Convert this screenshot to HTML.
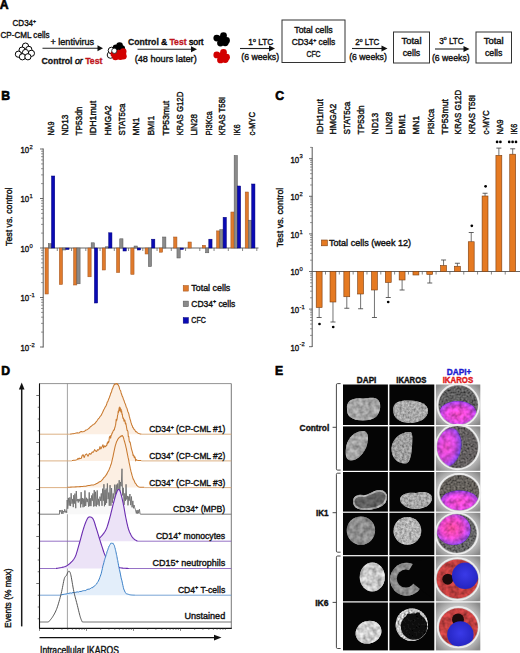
<!DOCTYPE html>
<html><head><meta charset="utf-8"><style>
html,body{margin:0;padding:0;background:#fff;overflow:hidden;}
svg{display:block;font-family:"Liberation Sans", sans-serif;}
</style></head><body>
<svg width="520" height="653" viewBox="0 0 520 653">
<rect width="520" height="653" fill="#fff"/>
<text x="-0.3" y="9.2" font-size="12.2" font-weight="bold" fill="#000" stroke="#000" stroke-width="0.6">A</text>
<text x="24.3" y="26" font-size="9.5" text-anchor="middle" textLength="23.5" lengthAdjust="spacingAndGlyphs" fill="#111" stroke="#111" stroke-width="0.4">CD34<tspan font-size="6" dy="-3.5">+</tspan></text>
<text x="25" y="37.8" font-size="9.5" text-anchor="middle" textLength="49" lengthAdjust="spacingAndGlyphs" fill="#111" stroke="#111" stroke-width="0.4">CP-CML cells</text>
<circle cx="25.5" cy="46.1" r="3.1" fill="#fff" stroke="#000" stroke-width="1"/>
<circle cx="22.1" cy="50.1" r="3.1" fill="#fff" stroke="#000" stroke-width="1"/>
<circle cx="28.8" cy="49.4" r="3.1" fill="#fff" stroke="#000" stroke-width="1"/>
<circle cx="25.5" cy="52.5" r="3.1" fill="#fff" stroke="#000" stroke-width="1"/>
<circle cx="18.4" cy="54.2" r="3.1" fill="#fff" stroke="#000" stroke-width="1"/>
<circle cx="31.4" cy="53.3" r="3.1" fill="#fff" stroke="#000" stroke-width="1"/>
<circle cx="22.4" cy="56.8" r="3.1" fill="#fff" stroke="#000" stroke-width="1"/>
<circle cx="27.9" cy="56.8" r="3.1" fill="#fff" stroke="#000" stroke-width="1"/>
<text x="72.3" y="45.3" font-size="9.5" text-anchor="middle" textLength="43.8" lengthAdjust="spacingAndGlyphs" fill="#111" stroke="#111" stroke-width="0.4">+ lentivirus</text>
<line x1="42.50" y1="48.30" x2="99.00" y2="48.30" stroke="#222" stroke-width="1.1"/>
<path d="M97.5,45.3 L103,48.3 L97.5,51.3 Z" fill="#111"/>
<text x="41.5" y="63.6" font-size="9.5" font-weight="bold" fill="#111" stroke="#111" stroke-width="0.3" textLength="61" lengthAdjust="spacingAndGlyphs">Control <tspan font-style="italic" font-weight="normal" stroke-width="0.5">or</tspan> <tspan fill="#c0141c" stroke="#c0141c">Test</tspan></text>
<circle cx="110.5" cy="55.0" r="3.3" fill="#fff" stroke="#111" stroke-width="1"/>
<circle cx="111.5" cy="50.5" r="3.3" fill="#fff" stroke="#111" stroke-width="1"/>
<circle cx="116.0" cy="47.8" r="3.3" fill="#000"/>
<circle cx="119.6" cy="45.6" r="3.3" fill="#000"/>
<circle cx="121.8" cy="48.6" r="3.3" fill="#000"/>
<circle cx="115.5" cy="57.0" r="3.3" fill="#d20000"/>
<circle cx="120.3" cy="56.8" r="3.3" fill="#d20000"/>
<circle cx="122.8" cy="53.2" r="3.3" fill="#d20000"/>
<circle cx="118.5" cy="53.0" r="3.3" fill="#d20000"/>
<circle cx="123.4" cy="56.2" r="3.3" fill="#d20000"/>
<circle cx="113.8" cy="54.0" r="3.3" fill="#d20000"/>
<circle cx="123.2" cy="51.6" r="3.3" fill="#d20000"/>
<circle cx="114.3" cy="50.8" r="2.6" fill="#fff" stroke="#111" stroke-width="0.8"/>
<text x="128" y="45" font-size="9.5" fill="#111" stroke="#111" stroke-width="0.55" textLength="75.5" lengthAdjust="spacingAndGlyphs"><tspan font-weight="bold" stroke-width="0.3">Control</tspan> &amp; <tspan font-weight="bold" fill="#c0141c" stroke="#c0141c" stroke-width="0.3">Test</tspan> sort</text>
<line x1="137.50" y1="49.30" x2="192.00" y2="49.30" stroke="#222" stroke-width="1.1"/>
<path d="M191,46.3 L197,49.3 L191,52.3 Z" fill="#111"/>
<text x="165.7" y="62.2" font-size="9.5" text-anchor="middle" textLength="62" lengthAdjust="spacingAndGlyphs" fill="#111" stroke="#111" stroke-width="0.4">(48 hours later)</text>
<circle cx="216.8" cy="38.1" r="3.4" fill="#000"/>
<circle cx="223.5" cy="35.7" r="3.4" fill="#000"/>
<circle cx="226.5" cy="40.4" r="3.4" fill="#000"/>
<circle cx="220.5" cy="43.1" r="3.4" fill="#000"/>
<circle cx="225.2" cy="42.8" r="3.4" fill="#000"/>
<circle cx="221.5" cy="39.0" r="3.4" fill="#000"/>
<circle cx="216.8" cy="54.9" r="3.4" fill="#d20000"/>
<circle cx="223.5" cy="52.5" r="3.4" fill="#d20000"/>
<circle cx="226.5" cy="57.2" r="3.4" fill="#d20000"/>
<circle cx="220.5" cy="59.9" r="3.4" fill="#d20000"/>
<circle cx="225.2" cy="59.6" r="3.4" fill="#d20000"/>
<circle cx="221.5" cy="55.8" r="3.4" fill="#d20000"/>
<text x="260.8" y="45" font-size="9.5" text-anchor="middle" textLength="25" lengthAdjust="spacingAndGlyphs" fill="#111" stroke="#111" stroke-width="0.4">1<tspan font-size="6" dy="-3.5">o</tspan><tspan dy="3.5"> LTC</tspan></text>
<line x1="240.00" y1="48.50" x2="270.00" y2="48.50" stroke="#222" stroke-width="1.1"/>
<path d="M269,45.5 L275,48.5 L269,51.5 Z" fill="#111"/>
<text x="260.2" y="60.3" font-size="9.5" text-anchor="middle" textLength="37.7" lengthAdjust="spacingAndGlyphs" fill="#111" stroke="#111" stroke-width="0.4">(6 weeks)</text>
<rect x="282.00" y="20.00" width="63.00" height="42.50" fill="#fff" stroke="#333" stroke-width="1"/>
<text x="313.5" y="32.6" font-size="9.6" text-anchor="middle" textLength="38.5" lengthAdjust="spacingAndGlyphs" fill="#111" stroke="#111" stroke-width="0.4">Total cells</text>
<text x="313.5" y="45.2" font-size="9.6" text-anchor="middle" textLength="43.5" lengthAdjust="spacingAndGlyphs" fill="#111" stroke="#111" stroke-width="0.4">CD34<tspan font-size="6" dy="-3.5">+</tspan><tspan dy="3.5"> cells</tspan></text>
<text x="313.5" y="57.0" font-size="9.8" text-anchor="middle" textLength="14.2" lengthAdjust="spacingAndGlyphs" fill="#111" stroke="#111" stroke-width="0.4">CFC</text>
<text x="367.3" y="45" font-size="9.5" text-anchor="middle" textLength="24" lengthAdjust="spacingAndGlyphs" fill="#111" stroke="#111" stroke-width="0.4">2<tspan font-size="6" dy="-3.5">o</tspan><tspan dy="3.5"> LTC</tspan></text>
<line x1="352.00" y1="48.50" x2="382.00" y2="48.50" stroke="#222" stroke-width="1.1"/>
<path d="M381.5,45.5 L387.5,48.5 L381.5,51.5 Z" fill="#111"/>
<text x="368" y="60.3" font-size="9.5" text-anchor="middle" textLength="37.7" lengthAdjust="spacingAndGlyphs" fill="#111" stroke="#111" stroke-width="0.4">(6 weeks)</text>
<rect x="393.50" y="32.00" width="36.00" height="31.00" fill="#fff" stroke="#333" stroke-width="1"/>
<text x="411.5" y="43.8" font-size="9.5" text-anchor="middle" textLength="20" lengthAdjust="spacingAndGlyphs" fill="#111" stroke="#111" stroke-width="0.4">Total</text>
<text x="411.5" y="56.2" font-size="9.5" text-anchor="middle" textLength="17.5" lengthAdjust="spacingAndGlyphs" fill="#111" stroke="#111" stroke-width="0.4">cells</text>
<text x="451.5" y="43.6" font-size="9.5" text-anchor="middle" textLength="24.5" lengthAdjust="spacingAndGlyphs" fill="#111" stroke="#111" stroke-width="0.4">3<tspan font-size="6" dy="-3.5">o</tspan><tspan dy="3.5"> LTC</tspan></text>
<line x1="435.00" y1="49.00" x2="464.00" y2="49.00" stroke="#222" stroke-width="1.1"/>
<path d="M463.5,46 L469.5,49 L463.5,52 Z" fill="#111"/>
<text x="450.8" y="61" font-size="9.5" text-anchor="middle" textLength="37.7" lengthAdjust="spacingAndGlyphs" fill="#111" stroke="#111" stroke-width="0.4">(6 weeks)</text>
<rect x="476.00" y="32.00" width="35.50" height="31.00" fill="#fff" stroke="#333" stroke-width="1"/>
<text x="493.7" y="43.8" font-size="9.5" text-anchor="middle" textLength="20" lengthAdjust="spacingAndGlyphs" fill="#111" stroke="#111" stroke-width="0.4">Total</text>
<text x="493.7" y="56.2" font-size="9.5" text-anchor="middle" textLength="17.5" lengthAdjust="spacingAndGlyphs" fill="#111" stroke="#111" stroke-width="0.4">cells</text>
<text x="1.2" y="99.5" font-size="12.2" font-weight="bold" fill="#000" stroke="#000" stroke-width="0.6">B</text>
<text x="54.1" y="135.6" font-size="9.8" textLength="14.0" lengthAdjust="spacingAndGlyphs" transform="rotate(-90 54.1 135.6)" fill="#111" stroke="#111" stroke-width="0.42">NA9</text>
<text x="68.2" y="135.6" font-size="9.8" textLength="21.0" lengthAdjust="spacingAndGlyphs" transform="rotate(-90 68.2 135.6)" fill="#111" stroke="#111" stroke-width="0.42">ND13</text>
<text x="82.1" y="135.6" font-size="9.8" textLength="29.0" lengthAdjust="spacingAndGlyphs" transform="rotate(-90 82.1 135.6)" fill="#111" stroke="#111" stroke-width="0.42">TP53dn</text>
<text x="96.4" y="135.6" font-size="9.8" textLength="34.8" lengthAdjust="spacingAndGlyphs" transform="rotate(-90 96.4 135.6)" fill="#111" stroke="#111" stroke-width="0.42">IDH1mut</text>
<text x="111.1" y="135.6" font-size="9.8" textLength="30.2" lengthAdjust="spacingAndGlyphs" transform="rotate(-90 111.1 135.6)" fill="#111" stroke="#111" stroke-width="0.42">HMGA2</text>
<text x="125.3" y="135.6" font-size="9.8" textLength="31.9" lengthAdjust="spacingAndGlyphs" transform="rotate(-90 125.3 135.6)" fill="#111" stroke="#111" stroke-width="0.42">STAT5ca</text>
<text x="139.1" y="135.6" font-size="9.8" textLength="18.1" lengthAdjust="spacingAndGlyphs" transform="rotate(-90 139.1 135.6)" fill="#111" stroke="#111" stroke-width="0.42">MN1</text>
<text x="153.7" y="135.6" font-size="9.8" textLength="19.8" lengthAdjust="spacingAndGlyphs" transform="rotate(-90 153.7 135.6)" fill="#111" stroke="#111" stroke-width="0.42">BMI1</text>
<text x="169.0" y="135.6" font-size="9.8" textLength="34.8" lengthAdjust="spacingAndGlyphs" transform="rotate(-90 169.0 135.6)" fill="#111" stroke="#111" stroke-width="0.42">TP53mut</text>
<text x="183.4" y="135.6" font-size="9.8" textLength="44.0" lengthAdjust="spacingAndGlyphs" transform="rotate(-90 183.4 135.6)" fill="#111" stroke="#111" stroke-width="0.42">KRAS G12D</text>
<text x="197.1" y="135.6" font-size="9.8" textLength="21.5" lengthAdjust="spacingAndGlyphs" transform="rotate(-90 197.1 135.6)" fill="#111" stroke="#111" stroke-width="0.42">LIN28</text>
<text x="211.6" y="135.6" font-size="9.8" textLength="24.4" lengthAdjust="spacingAndGlyphs" transform="rotate(-90 211.6 135.6)" fill="#111" stroke="#111" stroke-width="0.42">PI3Kca</text>
<text x="225.4" y="135.6" font-size="9.8" textLength="38.8" lengthAdjust="spacingAndGlyphs" transform="rotate(-90 225.4 135.6)" fill="#111" stroke="#111" stroke-width="0.42">KRAS T58I</text>
<text x="239.6" y="135.6" font-size="9.8" textLength="11.2" lengthAdjust="spacingAndGlyphs" transform="rotate(-90 239.6 135.6)" fill="#111" stroke="#111" stroke-width="0.42">IK6</text>
<text x="254.6" y="135.6" font-size="9.8" textLength="23.8" lengthAdjust="spacingAndGlyphs" transform="rotate(-90 254.6 135.6)" fill="#111" stroke="#111" stroke-width="0.42">c-MYC</text>
<text x="12.3" y="216.7" font-size="9.5" text-anchor="middle" textLength="58.5" lengthAdjust="spacingAndGlyphs" transform="rotate(-90 12.3 216.7)" fill="#111" stroke="#111" stroke-width="0.4">Test vs. control</text>
<line x1="43.20" y1="148.50" x2="43.20" y2="347.50" stroke="#444" stroke-width="0.9"/>
<line x1="40.00" y1="347.00" x2="43.20" y2="347.00" stroke="#444" stroke-width="0.8"/>
<text x="20.4" y="350.9" font-size="9.6" fill="#111" stroke="#111" stroke-width="0.4" textLength="8.7" lengthAdjust="spacingAndGlyphs">10</text>
<text x="29.6" y="346.7" font-size="5.8" fill="#111" stroke="#111" stroke-width="0.25">&#8209;2</text>
<line x1="41.00" y1="332.10" x2="43.20" y2="332.10" stroke="#555" stroke-width="0.6"/>
<line x1="41.00" y1="323.38" x2="43.20" y2="323.38" stroke="#555" stroke-width="0.6"/>
<line x1="41.00" y1="317.20" x2="43.20" y2="317.20" stroke="#555" stroke-width="0.6"/>
<line x1="41.00" y1="312.40" x2="43.20" y2="312.40" stroke="#555" stroke-width="0.6"/>
<line x1="41.00" y1="308.48" x2="43.20" y2="308.48" stroke="#555" stroke-width="0.6"/>
<line x1="41.00" y1="305.17" x2="43.20" y2="305.17" stroke="#555" stroke-width="0.6"/>
<line x1="41.00" y1="302.30" x2="43.20" y2="302.30" stroke="#555" stroke-width="0.6"/>
<line x1="41.00" y1="299.76" x2="43.20" y2="299.76" stroke="#555" stroke-width="0.6"/>
<line x1="40.00" y1="297.50" x2="43.20" y2="297.50" stroke="#444" stroke-width="0.8"/>
<text x="20.4" y="301.4" font-size="9.6" fill="#111" stroke="#111" stroke-width="0.4" textLength="8.7" lengthAdjust="spacingAndGlyphs">10</text>
<text x="29.6" y="297.2" font-size="5.8" fill="#111" stroke="#111" stroke-width="0.25">&#8209;1</text>
<line x1="41.00" y1="282.60" x2="43.20" y2="282.60" stroke="#555" stroke-width="0.6"/>
<line x1="41.00" y1="273.88" x2="43.20" y2="273.88" stroke="#555" stroke-width="0.6"/>
<line x1="41.00" y1="267.70" x2="43.20" y2="267.70" stroke="#555" stroke-width="0.6"/>
<line x1="41.00" y1="262.90" x2="43.20" y2="262.90" stroke="#555" stroke-width="0.6"/>
<line x1="41.00" y1="258.98" x2="43.20" y2="258.98" stroke="#555" stroke-width="0.6"/>
<line x1="41.00" y1="255.67" x2="43.20" y2="255.67" stroke="#555" stroke-width="0.6"/>
<line x1="41.00" y1="252.80" x2="43.20" y2="252.80" stroke="#555" stroke-width="0.6"/>
<line x1="41.00" y1="250.26" x2="43.20" y2="250.26" stroke="#555" stroke-width="0.6"/>
<line x1="40.00" y1="248.00" x2="43.20" y2="248.00" stroke="#444" stroke-width="0.8"/>
<text x="20.4" y="251.9" font-size="9.6" fill="#111" stroke="#111" stroke-width="0.4" textLength="8.7" lengthAdjust="spacingAndGlyphs">10</text>
<text x="29.6" y="247.7" font-size="5.8" fill="#111" stroke="#111" stroke-width="0.25">0</text>
<line x1="41.00" y1="233.10" x2="43.20" y2="233.10" stroke="#555" stroke-width="0.6"/>
<line x1="41.00" y1="224.38" x2="43.20" y2="224.38" stroke="#555" stroke-width="0.6"/>
<line x1="41.00" y1="218.20" x2="43.20" y2="218.20" stroke="#555" stroke-width="0.6"/>
<line x1="41.00" y1="213.40" x2="43.20" y2="213.40" stroke="#555" stroke-width="0.6"/>
<line x1="41.00" y1="209.48" x2="43.20" y2="209.48" stroke="#555" stroke-width="0.6"/>
<line x1="41.00" y1="206.17" x2="43.20" y2="206.17" stroke="#555" stroke-width="0.6"/>
<line x1="41.00" y1="203.30" x2="43.20" y2="203.30" stroke="#555" stroke-width="0.6"/>
<line x1="41.00" y1="200.76" x2="43.20" y2="200.76" stroke="#555" stroke-width="0.6"/>
<line x1="40.00" y1="198.50" x2="43.20" y2="198.50" stroke="#444" stroke-width="0.8"/>
<text x="20.4" y="202.4" font-size="9.6" fill="#111" stroke="#111" stroke-width="0.4" textLength="8.7" lengthAdjust="spacingAndGlyphs">10</text>
<text x="29.6" y="198.2" font-size="5.8" fill="#111" stroke="#111" stroke-width="0.25">1</text>
<line x1="41.00" y1="183.60" x2="43.20" y2="183.60" stroke="#555" stroke-width="0.6"/>
<line x1="41.00" y1="174.88" x2="43.20" y2="174.88" stroke="#555" stroke-width="0.6"/>
<line x1="41.00" y1="168.70" x2="43.20" y2="168.70" stroke="#555" stroke-width="0.6"/>
<line x1="41.00" y1="163.90" x2="43.20" y2="163.90" stroke="#555" stroke-width="0.6"/>
<line x1="41.00" y1="159.98" x2="43.20" y2="159.98" stroke="#555" stroke-width="0.6"/>
<line x1="41.00" y1="156.67" x2="43.20" y2="156.67" stroke="#555" stroke-width="0.6"/>
<line x1="41.00" y1="153.80" x2="43.20" y2="153.80" stroke="#555" stroke-width="0.6"/>
<line x1="41.00" y1="151.26" x2="43.20" y2="151.26" stroke="#555" stroke-width="0.6"/>
<line x1="40.00" y1="149.00" x2="43.20" y2="149.00" stroke="#444" stroke-width="0.8"/>
<text x="20.4" y="152.9" font-size="9.6" fill="#111" stroke="#111" stroke-width="0.4" textLength="8.7" lengthAdjust="spacingAndGlyphs">10</text>
<text x="29.6" y="148.7" font-size="5.8" fill="#111" stroke="#111" stroke-width="0.25">2</text>
<line x1="43.20" y1="248.00" x2="258.50" y2="248.00" stroke="#555" stroke-width="0.9"/>
<line x1="57.30" y1="248.00" x2="57.30" y2="251.00" stroke="#555" stroke-width="0.7"/>
<line x1="71.55" y1="248.00" x2="71.55" y2="251.00" stroke="#555" stroke-width="0.7"/>
<line x1="85.80" y1="248.00" x2="85.80" y2="251.00" stroke="#555" stroke-width="0.7"/>
<line x1="100.05" y1="248.00" x2="100.05" y2="251.00" stroke="#555" stroke-width="0.7"/>
<line x1="114.30" y1="248.00" x2="114.30" y2="251.00" stroke="#555" stroke-width="0.7"/>
<line x1="128.55" y1="248.00" x2="128.55" y2="251.00" stroke="#555" stroke-width="0.7"/>
<line x1="142.80" y1="248.00" x2="142.80" y2="251.00" stroke="#555" stroke-width="0.7"/>
<line x1="157.05" y1="248.00" x2="157.05" y2="251.00" stroke="#555" stroke-width="0.7"/>
<line x1="171.30" y1="248.00" x2="171.30" y2="251.00" stroke="#555" stroke-width="0.7"/>
<line x1="185.55" y1="248.00" x2="185.55" y2="251.00" stroke="#555" stroke-width="0.7"/>
<line x1="199.80" y1="248.00" x2="199.80" y2="251.00" stroke="#555" stroke-width="0.7"/>
<line x1="214.05" y1="248.00" x2="214.05" y2="251.00" stroke="#555" stroke-width="0.7"/>
<line x1="228.30" y1="248.00" x2="228.30" y2="251.00" stroke="#555" stroke-width="0.7"/>
<line x1="242.55" y1="248.00" x2="242.55" y2="251.00" stroke="#555" stroke-width="0.7"/>
<line x1="256.80" y1="248.00" x2="256.80" y2="251.00" stroke="#555" stroke-width="0.7"/>
<rect x="45.00" y="248.00" width="3.25" height="46.00" fill="#df7a2c" stroke="#a0521c" stroke-width="0.5"/>
<rect x="48.25" y="243.70" width="3.25" height="4.30" fill="#8a8a8a" stroke="#555" stroke-width="0.5"/>
<rect x="51.50" y="176.00" width="3.25" height="72.00" fill="#0a0ab4" stroke="#00007a" stroke-width="0.5"/>
<rect x="59.30" y="248.00" width="3.25" height="36.50" fill="#df7a2c" stroke="#a0521c" stroke-width="0.5"/>
<rect x="62.55" y="248.00" width="3.25" height="2.00" fill="#8a8a8a" stroke="#555" stroke-width="0.5"/>
<rect x="65.80" y="248.00" width="3.25" height="1.50" fill="#0a0ab4" stroke="#00007a" stroke-width="0.5"/>
<rect x="73.60" y="248.00" width="3.25" height="37.00" fill="#df7a2c" stroke="#a0521c" stroke-width="0.5"/>
<rect x="76.85" y="248.00" width="3.25" height="35.80" fill="#8a8a8a" stroke="#555" stroke-width="0.5"/>
<rect x="87.90" y="248.00" width="3.25" height="28.80" fill="#df7a2c" stroke="#a0521c" stroke-width="0.5"/>
<rect x="91.15" y="242.80" width="3.25" height="5.20" fill="#8a8a8a" stroke="#555" stroke-width="0.5"/>
<rect x="94.40" y="248.00" width="3.25" height="55.00" fill="#0a0ab4" stroke="#00007a" stroke-width="0.5"/>
<rect x="102.20" y="248.00" width="3.25" height="22.00" fill="#df7a2c" stroke="#a0521c" stroke-width="0.5"/>
<rect x="105.45" y="246.80" width="3.25" height="1.20" fill="#8a8a8a" stroke="#555" stroke-width="0.5"/>
<rect x="108.70" y="232.80" width="3.25" height="15.20" fill="#0a0ab4" stroke="#00007a" stroke-width="0.5"/>
<rect x="116.50" y="248.00" width="3.25" height="24.50" fill="#df7a2c" stroke="#a0521c" stroke-width="0.5"/>
<rect x="119.75" y="238.80" width="3.25" height="9.20" fill="#8a8a8a" stroke="#555" stroke-width="0.5"/>
<rect x="123.00" y="248.00" width="3.25" height="3.00" fill="#0a0ab4" stroke="#00007a" stroke-width="0.5"/>
<rect x="130.80" y="248.00" width="3.25" height="26.40" fill="#df7a2c" stroke="#a0521c" stroke-width="0.5"/>
<rect x="134.05" y="246.00" width="3.25" height="2.00" fill="#8a8a8a" stroke="#555" stroke-width="0.5"/>
<rect x="137.30" y="248.00" width="3.25" height="2.00" fill="#0a0ab4" stroke="#00007a" stroke-width="0.5"/>
<rect x="145.10" y="248.00" width="3.25" height="6.00" fill="#df7a2c" stroke="#a0521c" stroke-width="0.5"/>
<rect x="148.35" y="248.00" width="3.25" height="18.60" fill="#8a8a8a" stroke="#555" stroke-width="0.5"/>
<rect x="151.60" y="239.20" width="3.25" height="8.80" fill="#0a0ab4" stroke="#00007a" stroke-width="0.5"/>
<rect x="159.40" y="248.00" width="3.25" height="4.20" fill="#df7a2c" stroke="#a0521c" stroke-width="0.5"/>
<rect x="162.65" y="237.00" width="3.25" height="11.00" fill="#8a8a8a" stroke="#555" stroke-width="0.5"/>
<rect x="173.70" y="237.00" width="3.25" height="11.00" fill="#df7a2c" stroke="#a0521c" stroke-width="0.5"/>
<rect x="176.95" y="248.00" width="3.25" height="10.00" fill="#8a8a8a" stroke="#555" stroke-width="0.5"/>
<rect x="180.20" y="248.00" width="3.25" height="1.50" fill="#0a0ab4" stroke="#00007a" stroke-width="0.5"/>
<rect x="188.00" y="242.00" width="3.25" height="6.00" fill="#df7a2c" stroke="#a0521c" stroke-width="0.5"/>
<rect x="202.30" y="245.30" width="3.25" height="2.70" fill="#df7a2c" stroke="#a0521c" stroke-width="0.5"/>
<rect x="205.55" y="248.00" width="3.25" height="4.80" fill="#8a8a8a" stroke="#555" stroke-width="0.5"/>
<rect x="208.80" y="239.20" width="3.25" height="8.80" fill="#0a0ab4" stroke="#00007a" stroke-width="0.5"/>
<rect x="216.60" y="230.90" width="3.25" height="17.10" fill="#df7a2c" stroke="#a0521c" stroke-width="0.5"/>
<rect x="219.85" y="229.70" width="3.25" height="18.30" fill="#8a8a8a" stroke="#555" stroke-width="0.5"/>
<rect x="223.10" y="217.30" width="3.25" height="30.70" fill="#0a0ab4" stroke="#00007a" stroke-width="0.5"/>
<rect x="230.90" y="212.00" width="3.25" height="36.00" fill="#df7a2c" stroke="#a0521c" stroke-width="0.5"/>
<rect x="234.15" y="155.50" width="3.25" height="92.50" fill="#8a8a8a" stroke="#555" stroke-width="0.5"/>
<rect x="237.40" y="186.00" width="3.25" height="62.00" fill="#0a0ab4" stroke="#00007a" stroke-width="0.5"/>
<rect x="245.20" y="192.00" width="3.25" height="56.00" fill="#df7a2c" stroke="#a0521c" stroke-width="0.5"/>
<rect x="248.45" y="220.20" width="3.25" height="27.80" fill="#8a8a8a" stroke="#555" stroke-width="0.5"/>
<rect x="251.70" y="184.00" width="3.25" height="64.00" fill="#0a0ab4" stroke="#00007a" stroke-width="0.5"/>
<rect x="183.20" y="285.50" width="5.20" height="5.60" fill="#df7a2c" stroke="#a0521c" stroke-width="0.5"/>
<text x="191.3" y="291.09999999999997" font-size="9.5" textLength="39.0" lengthAdjust="spacingAndGlyphs" fill="#111" stroke="#111" stroke-width="0.4">Total cells</text>
<rect x="183.20" y="301.10" width="5.20" height="5.60" fill="#8a8a8a" stroke="#555" stroke-width="0.5"/>
<text x="191.3" y="306.7" font-size="9.5" textLength="44.0" lengthAdjust="spacingAndGlyphs" fill="#111" stroke="#111" stroke-width="0.4">CD34<tspan font-size="6" dy="-3.5">+</tspan><tspan dy="3.5"> cells</tspan></text>
<rect x="183.20" y="317.60" width="5.20" height="5.60" fill="#0a0ab4" stroke="#00007a" stroke-width="0.5"/>
<text x="191.3" y="323.2" font-size="9.5" textLength="14.6" lengthAdjust="spacingAndGlyphs" fill="#111" stroke="#111" stroke-width="0.4">CFC</text>
<text x="275.3" y="99.5" font-size="12.2" font-weight="bold" fill="#000" stroke="#000" stroke-width="0.6">C</text>
<text x="322.9" y="134.4" font-size="9.8" textLength="35.3" lengthAdjust="spacingAndGlyphs" transform="rotate(-90 322.9 134.4)" fill="#111" stroke="#111" stroke-width="0.42">IDH1mut</text>
<text x="336.3" y="134.4" font-size="9.8" textLength="30.7" lengthAdjust="spacingAndGlyphs" transform="rotate(-90 336.3 134.4)" fill="#111" stroke="#111" stroke-width="0.42">HMGA2</text>
<text x="349.8" y="134.4" font-size="9.8" textLength="32.7" lengthAdjust="spacingAndGlyphs" transform="rotate(-90 349.8 134.4)" fill="#111" stroke="#111" stroke-width="0.42">STAT5ca</text>
<text x="363.6" y="134.4" font-size="9.8" textLength="29.0" lengthAdjust="spacingAndGlyphs" transform="rotate(-90 363.6 134.4)" fill="#111" stroke="#111" stroke-width="0.42">TP53dn</text>
<text x="378.1" y="134.4" font-size="9.8" textLength="21.5" lengthAdjust="spacingAndGlyphs" transform="rotate(-90 378.1 134.4)" fill="#111" stroke="#111" stroke-width="0.42">ND13</text>
<text x="391.6" y="134.4" font-size="9.8" textLength="22.6" lengthAdjust="spacingAndGlyphs" transform="rotate(-90 391.6 134.4)" fill="#111" stroke="#111" stroke-width="0.42">LIN28</text>
<text x="405.4" y="134.4" font-size="9.8" textLength="20.3" lengthAdjust="spacingAndGlyphs" transform="rotate(-90 405.4 134.4)" fill="#111" stroke="#111" stroke-width="0.42">BMI1</text>
<text x="419.3" y="134.4" font-size="9.8" textLength="18.6" lengthAdjust="spacingAndGlyphs" transform="rotate(-90 419.3 134.4)" fill="#111" stroke="#111" stroke-width="0.42">MN1</text>
<text x="433.8" y="134.4" font-size="9.8" textLength="25.6" lengthAdjust="spacingAndGlyphs" transform="rotate(-90 433.8 134.4)" fill="#111" stroke="#111" stroke-width="0.42">PI3Kca</text>
<text x="447.6" y="134.4" font-size="9.8" textLength="35.3" lengthAdjust="spacingAndGlyphs" transform="rotate(-90 447.6 134.4)" fill="#111" stroke="#111" stroke-width="0.42">TP53mut</text>
<text x="461.4" y="134.4" font-size="9.8" textLength="44.6" lengthAdjust="spacingAndGlyphs" transform="rotate(-90 461.4 134.4)" fill="#111" stroke="#111" stroke-width="0.42">KRAS G12D</text>
<text x="475.3" y="134.4" font-size="9.8" textLength="39.4" lengthAdjust="spacingAndGlyphs" transform="rotate(-90 475.3 134.4)" fill="#111" stroke="#111" stroke-width="0.42">KRAS T58I</text>
<text x="489.4" y="134.4" font-size="9.8" textLength="24.2" lengthAdjust="spacingAndGlyphs" transform="rotate(-90 489.4 134.4)" fill="#111" stroke="#111" stroke-width="0.42">c-MYC</text>
<text x="502.9" y="134.4" font-size="9.8" textLength="15.0" lengthAdjust="spacingAndGlyphs" transform="rotate(-90 502.9 134.4)" fill="#111" stroke="#111" stroke-width="0.42">NA9</text>
<text x="516.6" y="134.4" font-size="9.8" textLength="10.7" lengthAdjust="spacingAndGlyphs" transform="rotate(-90 516.6 134.4)" fill="#111" stroke="#111" stroke-width="0.42">IK6</text>
<text x="282.6" y="217.4" font-size="9.5" text-anchor="middle" textLength="59.5" lengthAdjust="spacingAndGlyphs" transform="rotate(-90 282.6 217.4)" fill="#111" stroke="#111" stroke-width="0.4">Test vs. control</text>
<line x1="312.20" y1="147.00" x2="312.20" y2="347.00" stroke="#444" stroke-width="0.9"/>
<line x1="309.00" y1="346.70" x2="312.20" y2="346.70" stroke="#444" stroke-width="0.8"/>
<text x="290.4" y="350.6" font-size="9.6" fill="#111" stroke="#111" stroke-width="0.4" textLength="8.7" lengthAdjust="spacingAndGlyphs">10</text>
<text x="299.6" y="346.4" font-size="5.8" fill="#111" stroke="#111" stroke-width="0.25">&#8209;2</text>
<line x1="310.00" y1="335.38" x2="312.20" y2="335.38" stroke="#555" stroke-width="0.6"/>
<line x1="310.00" y1="328.76" x2="312.20" y2="328.76" stroke="#555" stroke-width="0.6"/>
<line x1="310.00" y1="324.06" x2="312.20" y2="324.06" stroke="#555" stroke-width="0.6"/>
<line x1="310.00" y1="320.42" x2="312.20" y2="320.42" stroke="#555" stroke-width="0.6"/>
<line x1="310.00" y1="317.44" x2="312.20" y2="317.44" stroke="#555" stroke-width="0.6"/>
<line x1="310.00" y1="314.92" x2="312.20" y2="314.92" stroke="#555" stroke-width="0.6"/>
<line x1="310.00" y1="312.74" x2="312.20" y2="312.74" stroke="#555" stroke-width="0.6"/>
<line x1="310.00" y1="310.82" x2="312.20" y2="310.82" stroke="#555" stroke-width="0.6"/>
<line x1="309.00" y1="309.10" x2="312.20" y2="309.10" stroke="#444" stroke-width="0.8"/>
<text x="290.4" y="313.0" font-size="9.6" fill="#111" stroke="#111" stroke-width="0.4" textLength="8.7" lengthAdjust="spacingAndGlyphs">10</text>
<text x="299.6" y="308.8" font-size="5.8" fill="#111" stroke="#111" stroke-width="0.25">&#8209;1</text>
<line x1="310.00" y1="297.78" x2="312.20" y2="297.78" stroke="#555" stroke-width="0.6"/>
<line x1="310.00" y1="291.16" x2="312.20" y2="291.16" stroke="#555" stroke-width="0.6"/>
<line x1="310.00" y1="286.46" x2="312.20" y2="286.46" stroke="#555" stroke-width="0.6"/>
<line x1="310.00" y1="282.82" x2="312.20" y2="282.82" stroke="#555" stroke-width="0.6"/>
<line x1="310.00" y1="279.84" x2="312.20" y2="279.84" stroke="#555" stroke-width="0.6"/>
<line x1="310.00" y1="277.32" x2="312.20" y2="277.32" stroke="#555" stroke-width="0.6"/>
<line x1="310.00" y1="275.14" x2="312.20" y2="275.14" stroke="#555" stroke-width="0.6"/>
<line x1="310.00" y1="273.22" x2="312.20" y2="273.22" stroke="#555" stroke-width="0.6"/>
<line x1="309.00" y1="271.50" x2="312.20" y2="271.50" stroke="#444" stroke-width="0.8"/>
<text x="290.4" y="275.4" font-size="9.6" fill="#111" stroke="#111" stroke-width="0.4" textLength="8.7" lengthAdjust="spacingAndGlyphs">10</text>
<text x="299.6" y="271.2" font-size="5.8" fill="#111" stroke="#111" stroke-width="0.25">0</text>
<line x1="310.00" y1="260.18" x2="312.20" y2="260.18" stroke="#555" stroke-width="0.6"/>
<line x1="310.00" y1="253.56" x2="312.20" y2="253.56" stroke="#555" stroke-width="0.6"/>
<line x1="310.00" y1="248.86" x2="312.20" y2="248.86" stroke="#555" stroke-width="0.6"/>
<line x1="310.00" y1="245.22" x2="312.20" y2="245.22" stroke="#555" stroke-width="0.6"/>
<line x1="310.00" y1="242.24" x2="312.20" y2="242.24" stroke="#555" stroke-width="0.6"/>
<line x1="310.00" y1="239.72" x2="312.20" y2="239.72" stroke="#555" stroke-width="0.6"/>
<line x1="310.00" y1="237.54" x2="312.20" y2="237.54" stroke="#555" stroke-width="0.6"/>
<line x1="310.00" y1="235.62" x2="312.20" y2="235.62" stroke="#555" stroke-width="0.6"/>
<line x1="309.00" y1="233.90" x2="312.20" y2="233.90" stroke="#444" stroke-width="0.8"/>
<text x="290.4" y="237.8" font-size="9.6" fill="#111" stroke="#111" stroke-width="0.4" textLength="8.7" lengthAdjust="spacingAndGlyphs">10</text>
<text x="299.6" y="233.6" font-size="5.8" fill="#111" stroke="#111" stroke-width="0.25">1</text>
<line x1="310.00" y1="222.58" x2="312.20" y2="222.58" stroke="#555" stroke-width="0.6"/>
<line x1="310.00" y1="215.96" x2="312.20" y2="215.96" stroke="#555" stroke-width="0.6"/>
<line x1="310.00" y1="211.26" x2="312.20" y2="211.26" stroke="#555" stroke-width="0.6"/>
<line x1="310.00" y1="207.62" x2="312.20" y2="207.62" stroke="#555" stroke-width="0.6"/>
<line x1="310.00" y1="204.64" x2="312.20" y2="204.64" stroke="#555" stroke-width="0.6"/>
<line x1="310.00" y1="202.12" x2="312.20" y2="202.12" stroke="#555" stroke-width="0.6"/>
<line x1="310.00" y1="199.94" x2="312.20" y2="199.94" stroke="#555" stroke-width="0.6"/>
<line x1="310.00" y1="198.02" x2="312.20" y2="198.02" stroke="#555" stroke-width="0.6"/>
<line x1="309.00" y1="196.30" x2="312.20" y2="196.30" stroke="#444" stroke-width="0.8"/>
<text x="290.4" y="200.2" font-size="9.6" fill="#111" stroke="#111" stroke-width="0.4" textLength="8.7" lengthAdjust="spacingAndGlyphs">10</text>
<text x="299.6" y="196.0" font-size="5.8" fill="#111" stroke="#111" stroke-width="0.25">2</text>
<line x1="310.00" y1="184.98" x2="312.20" y2="184.98" stroke="#555" stroke-width="0.6"/>
<line x1="310.00" y1="178.36" x2="312.20" y2="178.36" stroke="#555" stroke-width="0.6"/>
<line x1="310.00" y1="173.66" x2="312.20" y2="173.66" stroke="#555" stroke-width="0.6"/>
<line x1="310.00" y1="170.02" x2="312.20" y2="170.02" stroke="#555" stroke-width="0.6"/>
<line x1="310.00" y1="167.04" x2="312.20" y2="167.04" stroke="#555" stroke-width="0.6"/>
<line x1="310.00" y1="164.52" x2="312.20" y2="164.52" stroke="#555" stroke-width="0.6"/>
<line x1="310.00" y1="162.34" x2="312.20" y2="162.34" stroke="#555" stroke-width="0.6"/>
<line x1="310.00" y1="160.42" x2="312.20" y2="160.42" stroke="#555" stroke-width="0.6"/>
<line x1="309.00" y1="158.70" x2="312.20" y2="158.70" stroke="#444" stroke-width="0.8"/>
<text x="290.4" y="162.6" font-size="9.6" fill="#111" stroke="#111" stroke-width="0.4" textLength="8.7" lengthAdjust="spacingAndGlyphs">10</text>
<text x="299.6" y="158.4" font-size="5.8" fill="#111" stroke="#111" stroke-width="0.25">3</text>
<line x1="310.00" y1="147.38" x2="312.20" y2="147.38" stroke="#555" stroke-width="0.6"/>
<line x1="312.20" y1="271.50" x2="520.00" y2="271.50" stroke="#555" stroke-width="0.9"/>
<line x1="325.50" y1="271.50" x2="325.50" y2="274.50" stroke="#555" stroke-width="0.7"/>
<line x1="339.32" y1="271.50" x2="339.32" y2="274.50" stroke="#555" stroke-width="0.7"/>
<line x1="353.15" y1="271.50" x2="353.15" y2="274.50" stroke="#555" stroke-width="0.7"/>
<line x1="366.98" y1="271.50" x2="366.98" y2="274.50" stroke="#555" stroke-width="0.7"/>
<line x1="380.80" y1="271.50" x2="380.80" y2="274.50" stroke="#555" stroke-width="0.7"/>
<line x1="394.62" y1="271.50" x2="394.62" y2="274.50" stroke="#555" stroke-width="0.7"/>
<line x1="408.45" y1="271.50" x2="408.45" y2="274.50" stroke="#555" stroke-width="0.7"/>
<line x1="422.27" y1="271.50" x2="422.27" y2="274.50" stroke="#555" stroke-width="0.7"/>
<line x1="436.10" y1="271.50" x2="436.10" y2="274.50" stroke="#555" stroke-width="0.7"/>
<line x1="449.93" y1="271.50" x2="449.93" y2="274.50" stroke="#555" stroke-width="0.7"/>
<line x1="463.75" y1="271.50" x2="463.75" y2="274.50" stroke="#555" stroke-width="0.7"/>
<line x1="477.57" y1="271.50" x2="477.57" y2="274.50" stroke="#555" stroke-width="0.7"/>
<line x1="491.40" y1="271.50" x2="491.40" y2="274.50" stroke="#555" stroke-width="0.7"/>
<line x1="505.23" y1="271.50" x2="505.23" y2="274.50" stroke="#555" stroke-width="0.7"/>
<rect x="316.20" y="271.50" width="5.90" height="36.00" fill="#e57a22" stroke="#7a3c10" stroke-width="0.6"/>
<line x1="319.15" y1="307.50" x2="319.15" y2="317.50" stroke="#444" stroke-width="0.75"/>
<line x1="316.65" y1="317.50" x2="321.65" y2="317.50" stroke="#444" stroke-width="0.85"/>
<circle cx="319.5" cy="324" r="1.35" fill="#000"/>
<rect x="330.02" y="271.50" width="5.90" height="30.50" fill="#e57a22" stroke="#7a3c10" stroke-width="0.6"/>
<line x1="332.97" y1="302.00" x2="332.97" y2="322.00" stroke="#444" stroke-width="0.75"/>
<line x1="330.47" y1="322.00" x2="335.47" y2="322.00" stroke="#444" stroke-width="0.85"/>
<circle cx="333.2" cy="327" r="1.35" fill="#000"/>
<rect x="343.85" y="271.50" width="5.90" height="25.25" fill="#e57a22" stroke="#7a3c10" stroke-width="0.6"/>
<line x1="346.80" y1="296.75" x2="346.80" y2="308.25" stroke="#444" stroke-width="0.75"/>
<line x1="344.30" y1="308.25" x2="349.30" y2="308.25" stroke="#444" stroke-width="0.85"/>
<rect x="357.67" y="271.50" width="5.90" height="22.50" fill="#e57a22" stroke="#7a3c10" stroke-width="0.6"/>
<line x1="360.62" y1="294.00" x2="360.62" y2="308.75" stroke="#444" stroke-width="0.75"/>
<line x1="358.12" y1="308.75" x2="363.12" y2="308.75" stroke="#444" stroke-width="0.85"/>
<rect x="371.50" y="271.50" width="5.90" height="18.50" fill="#e57a22" stroke="#7a3c10" stroke-width="0.6"/>
<line x1="374.45" y1="290.00" x2="374.45" y2="317.50" stroke="#444" stroke-width="0.75"/>
<line x1="371.95" y1="317.50" x2="376.95" y2="317.50" stroke="#444" stroke-width="0.85"/>
<rect x="385.32" y="271.50" width="5.90" height="11.00" fill="#e57a22" stroke="#7a3c10" stroke-width="0.6"/>
<line x1="388.27" y1="282.50" x2="388.27" y2="297.50" stroke="#444" stroke-width="0.75"/>
<line x1="385.77" y1="297.50" x2="390.77" y2="297.50" stroke="#444" stroke-width="0.85"/>
<circle cx="388.2" cy="302" r="1.35" fill="#000"/>
<rect x="399.15" y="271.50" width="5.90" height="8.50" fill="#e57a22" stroke="#7a3c10" stroke-width="0.6"/>
<line x1="402.10" y1="280.00" x2="402.10" y2="290.00" stroke="#444" stroke-width="0.75"/>
<line x1="399.60" y1="290.00" x2="404.60" y2="290.00" stroke="#444" stroke-width="0.85"/>
<rect x="412.97" y="271.50" width="5.90" height="3.50" fill="#e57a22" stroke="#7a3c10" stroke-width="0.6"/>
<rect x="426.80" y="271.50" width="5.90" height="3.00" fill="#e57a22" stroke="#7a3c10" stroke-width="0.6"/>
<line x1="429.75" y1="274.50" x2="429.75" y2="283.00" stroke="#444" stroke-width="0.75"/>
<line x1="427.25" y1="283.00" x2="432.25" y2="283.00" stroke="#444" stroke-width="0.85"/>
<rect x="440.62" y="265.50" width="5.90" height="6.00" fill="#e57a22" stroke="#7a3c10" stroke-width="0.6"/>
<line x1="443.57" y1="265.50" x2="443.57" y2="260.00" stroke="#444" stroke-width="0.75"/>
<line x1="441.07" y1="260.00" x2="446.07" y2="260.00" stroke="#444" stroke-width="0.85"/>
<rect x="454.45" y="266.25" width="5.90" height="5.25" fill="#e57a22" stroke="#7a3c10" stroke-width="0.6"/>
<line x1="457.40" y1="266.25" x2="457.40" y2="263.25" stroke="#444" stroke-width="0.75"/>
<line x1="454.90" y1="263.25" x2="459.90" y2="263.25" stroke="#444" stroke-width="0.85"/>
<rect x="468.27" y="241.75" width="5.90" height="29.75" fill="#e57a22" stroke="#7a3c10" stroke-width="0.6"/>
<line x1="471.22" y1="241.75" x2="471.22" y2="232.50" stroke="#444" stroke-width="0.75"/>
<line x1="468.72" y1="232.50" x2="473.72" y2="232.50" stroke="#444" stroke-width="0.85"/>
<circle cx="471.8" cy="225.8" r="1.35" fill="#000"/>
<rect x="482.10" y="196.00" width="5.90" height="75.50" fill="#e57a22" stroke="#7a3c10" stroke-width="0.6"/>
<line x1="485.05" y1="196.00" x2="485.05" y2="193.25" stroke="#444" stroke-width="0.75"/>
<line x1="482.55" y1="193.25" x2="487.55" y2="193.25" stroke="#444" stroke-width="0.85"/>
<circle cx="485.6" cy="186.3" r="1.35" fill="#000"/>
<rect x="495.92" y="155.40" width="5.90" height="116.10" fill="#e57a22" stroke="#7a3c10" stroke-width="0.6"/>
<line x1="498.87" y1="155.40" x2="498.87" y2="148.10" stroke="#444" stroke-width="0.75"/>
<line x1="496.37" y1="148.10" x2="501.37" y2="148.10" stroke="#444" stroke-width="0.85"/>
<circle cx="497.1" cy="141.9" r="1.35" fill="#000"/>
<circle cx="500.4" cy="141.9" r="1.35" fill="#000"/>
<rect x="509.75" y="154.20" width="5.90" height="117.30" fill="#e57a22" stroke="#7a3c10" stroke-width="0.6"/>
<line x1="512.70" y1="154.20" x2="512.70" y2="148.80" stroke="#444" stroke-width="0.75"/>
<line x1="510.20" y1="148.80" x2="515.20" y2="148.80" stroke="#444" stroke-width="0.85"/>
<circle cx="509.2" cy="141.9" r="1.35" fill="#000"/>
<circle cx="512.6" cy="141.9" r="1.35" fill="#000"/>
<circle cx="516.0" cy="141.9" r="1.35" fill="#000"/>
<rect x="321.50" y="240.00" width="5.80" height="5.80" fill="#e57a22" stroke="#7a3c10" stroke-width="0.6"/>
<text x="329" y="246.1" font-size="9.5" fill="#111" stroke="#111" stroke-width="0.4" textLength="82" lengthAdjust="spacingAndGlyphs">Total cells (week 12)</text>
<text x="1.2" y="374.8" font-size="12.2" font-weight="bold" fill="#000" stroke="#000" stroke-width="0.6">D</text>
<line x1="21.70" y1="388.00" x2="21.70" y2="626.40" stroke="#1a1a1a" stroke-width="1.5"/>
<path d="M18.9,389.5 L21.7,382.5 L24.5,389.5 Z" fill="#111"/>
<text x="11.2" y="598.2" font-size="9.8" text-anchor="middle" textLength="59.5" lengthAdjust="spacingAndGlyphs" transform="rotate(-90 11.2 598.2)" fill="#111" stroke="#111" stroke-width="0.4">Events (% max)</text>
<line x1="39.50" y1="383.60" x2="231.30" y2="383.60" stroke="#777" stroke-width="0.8"/>
<line x1="231.30" y1="383.60" x2="231.30" y2="628.00" stroke="#555" stroke-width="0.8"/>
<line x1="67.40" y1="383.60" x2="67.40" y2="628.00" stroke="#8a8a8a" stroke-width="0.8"/>
<path d="M70.00,434.20 L70.55,434.10 L71.28,433.98 L72.14,433.83 L73.11,433.66 L74.14,433.47 L75.21,433.27 L76.27,433.04 L77.30,432.80 L78.32,433.02 L79.38,432.78 L80.46,431.66 L81.57,431.43 L82.68,431.88 L83.80,431.42 L84.91,430.91 L86.00,430.01 L87.10,429.64 L88.24,428.87 L89.38,427.97 L90.52,426.63 L91.63,425.95 L92.69,424.96 L93.69,424.38 L94.60,423.79 L95.41,422.97 L96.14,421.84 L96.80,421.05 L97.41,420.18 L98.00,419.24 L98.58,418.47 L99.17,418.08 L99.80,417.02 L100.46,416.06 L101.12,415.48 L101.79,413.95 L102.46,412.78 L103.12,411.21 L103.76,409.74 L104.39,408.78 L105.00,407.34 L105.59,406.45 L106.16,405.64 L106.71,404.00 L107.26,402.18 L107.79,401.57 L108.30,400.15 L108.81,398.80 L109.30,397.71 L109.79,396.29 L110.27,395.01 L110.75,393.26 L111.21,392.60 L111.65,391.35 L112.07,389.39 L112.45,388.95 L112.80,388.02 L113.10,387.02 L113.35,386.46 L113.56,385.91 L113.76,385.91 L113.93,385.13 L114.11,385.15 L114.30,384.41 L114.50,384.68 L114.72,384.49 L114.95,383.90 L115.17,383.91 L115.40,384.21 L115.63,383.99 L115.85,383.76 L116.08,383.51 L116.30,383.62 L116.52,384.01 L116.73,383.47 L116.94,384.23 L117.16,383.62 L117.37,384.34 L117.58,383.86 L117.79,384.69 L118.00,384.71 L118.19,384.81 L118.36,385.14 L118.52,385.62 L118.69,385.98 L118.87,386.20 L119.09,386.72 L119.36,387.78 L119.70,389.13 L120.11,389.96 L120.59,390.74 L121.12,392.98 L121.68,394.48 L122.27,396.32 L122.86,397.28 L123.44,399.48 L124.00,400.36 L124.55,402.47 L125.12,403.60 L125.69,405.06 L126.26,407.23 L126.82,407.97 L127.37,409.90 L127.90,411.74 L128.40,412.64 L128.87,414.16 L129.30,416.43 L129.70,417.59 L130.10,419.49 L130.50,420.38 L130.90,422.20 L131.33,423.41 L131.80,425.17 L132.30,425.73 L132.81,427.65 L133.35,427.70 L133.89,429.29 L134.45,429.40 L135.03,430.38 L135.61,431.61 L136.20,431.56 L136.84,432.11 L137.55,432.85 L138.29,433.20 L139.02,433.48 L139.73,433.71 L140.37,433.89 L140.90,434.05 L141.30,434.20 L141.30,434.2 L70.00,434.2 Z" fill="#fcefe3" stroke="none"/>
<path d="M39.5,434.2 L70.00,434.2 M141.30,434.2 L231.3,434.2" fill="none" stroke="#d9a877" stroke-width="0.9"/>
<path d="M70.00,434.20 L70.55,434.10 L71.28,433.98 L72.14,433.83 L73.11,433.66 L74.14,433.47 L75.21,433.27 L76.27,433.04 L77.30,432.80 L78.32,433.02 L79.38,432.78 L80.46,431.66 L81.57,431.43 L82.68,431.88 L83.80,431.42 L84.91,430.91 L86.00,430.01 L87.10,429.64 L88.24,428.87 L89.38,427.97 L90.52,426.63 L91.63,425.95 L92.69,424.96 L93.69,424.38 L94.60,423.79 L95.41,422.97 L96.14,421.84 L96.80,421.05 L97.41,420.18 L98.00,419.24 L98.58,418.47 L99.17,418.08 L99.80,417.02 L100.46,416.06 L101.12,415.48 L101.79,413.95 L102.46,412.78 L103.12,411.21 L103.76,409.74 L104.39,408.78 L105.00,407.34 L105.59,406.45 L106.16,405.64 L106.71,404.00 L107.26,402.18 L107.79,401.57 L108.30,400.15 L108.81,398.80 L109.30,397.71 L109.79,396.29 L110.27,395.01 L110.75,393.26 L111.21,392.60 L111.65,391.35 L112.07,389.39 L112.45,388.95 L112.80,388.02 L113.10,387.02 L113.35,386.46 L113.56,385.91 L113.76,385.91 L113.93,385.13 L114.11,385.15 L114.30,384.41 L114.50,384.68 L114.72,384.49 L114.95,383.90 L115.17,383.91 L115.40,384.21 L115.63,383.99 L115.85,383.76 L116.08,383.51 L116.30,383.62 L116.52,384.01 L116.73,383.47 L116.94,384.23 L117.16,383.62 L117.37,384.34 L117.58,383.86 L117.79,384.69 L118.00,384.71 L118.19,384.81 L118.36,385.14 L118.52,385.62 L118.69,385.98 L118.87,386.20 L119.09,386.72 L119.36,387.78 L119.70,389.13 L120.11,389.96 L120.59,390.74 L121.12,392.98 L121.68,394.48 L122.27,396.32 L122.86,397.28 L123.44,399.48 L124.00,400.36 L124.55,402.47 L125.12,403.60 L125.69,405.06 L126.26,407.23 L126.82,407.97 L127.37,409.90 L127.90,411.74 L128.40,412.64 L128.87,414.16 L129.30,416.43 L129.70,417.59 L130.10,419.49 L130.50,420.38 L130.90,422.20 L131.33,423.41 L131.80,425.17 L132.30,425.73 L132.81,427.65 L133.35,427.70 L133.89,429.29 L134.45,429.40 L135.03,430.38 L135.61,431.61 L136.20,431.56 L136.84,432.11 L137.55,432.85 L138.29,433.20 L139.02,433.48 L139.73,433.71 L140.37,433.89 L140.90,434.05 L141.30,434.20" fill="none" stroke="#c97a30" stroke-width="1.05" stroke-linejoin="round"/>
<path d="M72.00,460.50 L72.40,460.45 L72.91,460.40 L73.53,460.34 L74.22,460.26 L74.96,460.16 L75.74,460.02 L76.52,459.84 L77.30,459.60 L78.06,458.26 L78.83,459.14 L79.62,458.07 L80.43,458.58 L81.29,458.22 L82.19,455.50 L83.16,454.78 L84.20,457.55 L85.36,454.66 L86.64,453.92 L88.00,456.29 L89.40,453.49 L90.80,454.25 L92.16,452.13 L93.44,452.14 L94.60,449.60 L95.64,451.02 L96.61,451.48 L97.52,449.66 L98.37,450.11 L99.19,449.42 L99.98,446.59 L100.74,448.96 L101.50,447.86 L102.24,446.29 L102.96,444.83 L103.65,447.80 L104.31,445.85 L104.95,446.44 L105.56,446.63 L106.14,445.46 L106.70,445.68 L107.22,442.88 L107.69,443.72 L108.14,441.44 L108.56,442.50 L108.96,441.35 L109.36,437.29 L109.77,436.53 L110.20,435.97 L110.64,438.12 L111.10,435.18 L111.56,435.13 L112.01,433.02 L112.46,433.01 L112.90,431.65 L113.31,430.59 L113.70,430.54 L114.06,429.48 L114.39,429.65 L114.71,427.60 L115.01,427.38 L115.30,425.87 L115.59,425.16 L115.89,422.63 L116.20,419.35 L116.53,420.82 L116.87,419.81 L117.22,418.08 L117.57,415.26 L117.91,414.42 L118.23,411.12 L118.53,412.49 L118.80,410.59 L119.03,408.80 L119.22,407.45 L119.38,410.30 L119.53,410.67 L119.68,407.01 L119.83,409.92 L120.00,408.51 L120.20,407.70 L120.42,408.61 L120.64,410.96 L120.87,411.95 L121.12,409.30 L121.38,412.34 L121.66,410.90 L121.97,414.51 L122.30,413.92 L122.67,417.17 L123.08,418.70 L123.51,418.01 L123.97,421.28 L124.43,419.87 L124.90,420.35 L125.36,423.90 L125.80,423.13 L126.23,425.35 L126.65,427.84 L127.08,430.36 L127.50,430.31 L127.92,431.64 L128.35,436.73 L128.77,436.30 L129.20,440.63 L129.63,442.17 L130.07,441.94 L130.51,444.15 L130.94,446.26 L131.38,448.57 L131.82,450.10 L132.26,451.53 L132.70,453.18 L133.13,455.70 L133.54,455.09 L133.94,455.79 L134.35,457.84 L134.77,456.71 L135.21,457.67 L135.69,460.90 L136.20,459.60 L136.80,460.01 L137.48,460.27 L138.22,460.42 L138.97,460.48 L139.69,460.49 L140.35,460.48 L140.90,460.47 L141.30,460.50 L141.30,460.9 L72.00,460.9 Z" fill="#fcefe3" stroke="none"/>
<path d="M39.5,460.9 L72.00,460.9 M141.30,460.9 L231.3,460.9" fill="none" stroke="#d9a877" stroke-width="0.9"/>
<path d="M72.00,460.50 L72.40,460.45 L72.91,460.40 L73.53,460.34 L74.22,460.26 L74.96,460.16 L75.74,460.02 L76.52,459.84 L77.30,459.60 L78.06,458.26 L78.83,459.14 L79.62,458.07 L80.43,458.58 L81.29,458.22 L82.19,455.50 L83.16,454.78 L84.20,457.55 L85.36,454.66 L86.64,453.92 L88.00,456.29 L89.40,453.49 L90.80,454.25 L92.16,452.13 L93.44,452.14 L94.60,449.60 L95.64,451.02 L96.61,451.48 L97.52,449.66 L98.37,450.11 L99.19,449.42 L99.98,446.59 L100.74,448.96 L101.50,447.86 L102.24,446.29 L102.96,444.83 L103.65,447.80 L104.31,445.85 L104.95,446.44 L105.56,446.63 L106.14,445.46 L106.70,445.68 L107.22,442.88 L107.69,443.72 L108.14,441.44 L108.56,442.50 L108.96,441.35 L109.36,437.29 L109.77,436.53 L110.20,435.97 L110.64,438.12 L111.10,435.18 L111.56,435.13 L112.01,433.02 L112.46,433.01 L112.90,431.65 L113.31,430.59 L113.70,430.54 L114.06,429.48 L114.39,429.65 L114.71,427.60 L115.01,427.38 L115.30,425.87 L115.59,425.16 L115.89,422.63 L116.20,419.35 L116.53,420.82 L116.87,419.81 L117.22,418.08 L117.57,415.26 L117.91,414.42 L118.23,411.12 L118.53,412.49 L118.80,410.59 L119.03,408.80 L119.22,407.45 L119.38,410.30 L119.53,410.67 L119.68,407.01 L119.83,409.92 L120.00,408.51 L120.20,407.70 L120.42,408.61 L120.64,410.96 L120.87,411.95 L121.12,409.30 L121.38,412.34 L121.66,410.90 L121.97,414.51 L122.30,413.92 L122.67,417.17 L123.08,418.70 L123.51,418.01 L123.97,421.28 L124.43,419.87 L124.90,420.35 L125.36,423.90 L125.80,423.13 L126.23,425.35 L126.65,427.84 L127.08,430.36 L127.50,430.31 L127.92,431.64 L128.35,436.73 L128.77,436.30 L129.20,440.63 L129.63,442.17 L130.07,441.94 L130.51,444.15 L130.94,446.26 L131.38,448.57 L131.82,450.10 L132.26,451.53 L132.70,453.18 L133.13,455.70 L133.54,455.09 L133.94,455.79 L134.35,457.84 L134.77,456.71 L135.21,457.67 L135.69,460.90 L136.20,459.60 L136.80,460.01 L137.48,460.27 L138.22,460.42 L138.97,460.48 L139.69,460.49 L140.35,460.48 L140.90,460.47 L141.30,460.50" fill="none" stroke="#c97a30" stroke-width="1.05" stroke-linejoin="round"/>
<path d="M67.30,487.30 L68.20,487.26 L69.41,487.20 L70.85,487.13 L72.44,487.06 L74.11,486.97 L75.78,486.89 L77.37,486.79 L78.80,486.70 L80.11,486.61 L81.40,486.52 L82.66,486.43 L83.89,486.34 L85.09,486.23 L86.26,486.11 L87.40,485.81 L88.50,485.56 L89.57,485.55 L90.61,485.21 L91.62,484.95 L92.60,484.92 L93.55,484.98 L94.46,484.63 L95.35,484.30 L96.20,483.63 L97.01,483.46 L97.76,482.93 L98.48,482.48 L99.17,482.02 L99.84,481.62 L100.51,481.52 L101.20,480.87 L101.90,480.18 L102.63,479.42 L103.39,478.21 L104.16,477.37 L104.92,476.59 L105.67,475.64 L106.39,474.66 L107.07,473.61 L107.70,472.05 L108.27,471.31 L108.79,470.32 L109.27,469.18 L109.72,467.91 L110.16,466.93 L110.59,465.44 L111.03,464.54 L111.50,462.92 L111.99,460.86 L112.49,458.55 L113.00,456.56 L113.51,453.91 L114.01,451.68 L114.49,449.37 L114.96,447.11 L115.40,445.35 L115.81,444.09 L116.20,442.84 L116.56,441.72 L116.91,441.01 L117.26,440.63 L117.60,439.56 L117.94,438.99 L118.30,438.78 L118.67,438.03 L119.05,437.73 L119.44,437.31 L119.82,436.91 L120.19,437.03 L120.55,436.33 L120.89,436.29 L121.20,436.02 L121.47,436.13 L121.70,435.74 L121.90,435.64 L122.09,435.78 L122.29,435.53 L122.49,435.83 L122.73,436.38 L123.00,436.46 L123.32,437.26 L123.67,438.41 L124.05,439.97 L124.44,441.26 L124.84,442.51 L125.24,444.11 L125.63,445.57 L126.00,447.28 L126.36,448.58 L126.71,450.59 L127.06,452.39 L127.41,454.15 L127.75,455.76 L128.10,457.64 L128.45,458.81 L128.80,460.67 L129.16,462.80 L129.52,464.46 L129.88,466.03 L130.24,468.13 L130.61,469.67 L130.97,471.44 L131.34,472.67 L131.70,474.01 L132.06,475.42 L132.40,476.38 L132.74,477.56 L133.09,478.86 L133.44,479.37 L133.80,480.02 L134.19,480.84 L134.60,481.70 L135.03,482.84 L135.46,483.32 L135.91,483.97 L136.38,484.50 L136.86,485.62 L137.38,485.82 L137.92,486.32 L138.50,486.70 L139.17,486.98 L139.93,487.16 L140.76,487.26 L141.59,487.30 L142.40,487.30 L143.13,487.29 L143.75,487.28 L144.20,487.30 L144.20,487.6 L67.30,487.6 Z" fill="#fcefe3" stroke="none"/>
<path d="M39.5,487.6 L67.30,487.6 M144.20,487.6 L231.3,487.6" fill="none" stroke="#d9a877" stroke-width="0.9"/>
<path d="M67.30,487.30 L68.20,487.26 L69.41,487.20 L70.85,487.13 L72.44,487.06 L74.11,486.97 L75.78,486.89 L77.37,486.79 L78.80,486.70 L80.11,486.61 L81.40,486.52 L82.66,486.43 L83.89,486.34 L85.09,486.23 L86.26,486.11 L87.40,485.81 L88.50,485.56 L89.57,485.55 L90.61,485.21 L91.62,484.95 L92.60,484.92 L93.55,484.98 L94.46,484.63 L95.35,484.30 L96.20,483.63 L97.01,483.46 L97.76,482.93 L98.48,482.48 L99.17,482.02 L99.84,481.62 L100.51,481.52 L101.20,480.87 L101.90,480.18 L102.63,479.42 L103.39,478.21 L104.16,477.37 L104.92,476.59 L105.67,475.64 L106.39,474.66 L107.07,473.61 L107.70,472.05 L108.27,471.31 L108.79,470.32 L109.27,469.18 L109.72,467.91 L110.16,466.93 L110.59,465.44 L111.03,464.54 L111.50,462.92 L111.99,460.86 L112.49,458.55 L113.00,456.56 L113.51,453.91 L114.01,451.68 L114.49,449.37 L114.96,447.11 L115.40,445.35 L115.81,444.09 L116.20,442.84 L116.56,441.72 L116.91,441.01 L117.26,440.63 L117.60,439.56 L117.94,438.99 L118.30,438.78 L118.67,438.03 L119.05,437.73 L119.44,437.31 L119.82,436.91 L120.19,437.03 L120.55,436.33 L120.89,436.29 L121.20,436.02 L121.47,436.13 L121.70,435.74 L121.90,435.64 L122.09,435.78 L122.29,435.53 L122.49,435.83 L122.73,436.38 L123.00,436.46 L123.32,437.26 L123.67,438.41 L124.05,439.97 L124.44,441.26 L124.84,442.51 L125.24,444.11 L125.63,445.57 L126.00,447.28 L126.36,448.58 L126.71,450.59 L127.06,452.39 L127.41,454.15 L127.75,455.76 L128.10,457.64 L128.45,458.81 L128.80,460.67 L129.16,462.80 L129.52,464.46 L129.88,466.03 L130.24,468.13 L130.61,469.67 L130.97,471.44 L131.34,472.67 L131.70,474.01 L132.06,475.42 L132.40,476.38 L132.74,477.56 L133.09,478.86 L133.44,479.37 L133.80,480.02 L134.19,480.84 L134.60,481.70 L135.03,482.84 L135.46,483.32 L135.91,483.97 L136.38,484.50 L136.86,485.62 L137.38,485.82 L137.92,486.32 L138.50,486.70 L139.17,486.98 L139.93,487.16 L140.76,487.26 L141.59,487.30 L142.40,487.30 L143.13,487.29 L143.75,487.28 L144.20,487.30" fill="none" stroke="#c97a30" stroke-width="1.05" stroke-linejoin="round"/>
<path d="M59.50,510.30 L60.17,511.66 L60.81,510.18 L61.50,513.69 L62.15,509.94 L62.92,513.94 L63.49,511.02 L64.26,512.29 L64.73,509.24 L65.56,512.40 L66.26,510.89 L66.72,512.75 L67.19,500.00 L67.74,508.76 L68.37,497.90 L69.16,505.68 L69.87,497.40 L70.58,506.07 L71.14,493.22 L71.99,503.66 L72.72,498.95 L73.27,507.13 L73.74,495.16 L74.35,503.62 L74.96,493.55 L75.75,508.20 L76.28,491.06 L76.92,501.14 L77.53,499.10 L78.23,502.59 L78.79,498.96 L79.37,501.26 L80.12,498.67 L80.67,507.47 L81.15,492.15 L81.67,504.17 L82.30,497.97 L83.04,507.26 L83.75,498.68 L84.37,506.67 L84.92,490.48 L85.69,506.01 L86.50,497.78 L87.11,502.05 L87.81,498.84 L88.66,506.66 L89.21,492.38 L89.79,506.07 L90.27,498.30 L90.96,506.13 L91.65,495.48 L92.28,500.76 L92.92,493.45 L93.72,506.58 L94.23,490.12 L95.01,506.08 L95.53,491.81 L96.36,506.48 L97.19,490.38 L97.88,504.79 L98.37,498.81 L99.21,506.16 L99.94,496.63 L100.72,500.90 L101.29,493.42 L102.02,505.81 L102.57,488.66 L103.36,500.74 L103.92,484.22 L104.45,506.30 L105.01,490.07 L105.48,504.81 L106.08,488.51 L106.58,503.08 L107.39,483.44 L108.10,499.11 L108.78,492.55 L109.25,505.77 L110.06,485.15 L110.90,505.74 L111.60,488.03 L112.34,502.79 L113.19,493.41 L113.86,498.65 L114.67,484.67 L115.40,494.68 L116.22,484.57 L116.94,493.39 L117.74,483.53 L118.51,493.84 L119.19,480.20 L119.79,492.54 L120.48,481.96 L121.19,486.25 L121.99,468.74 L122.60,495.38 L123.28,487.81 L124.07,504.85 L124.82,493.39 L125.51,500.79 L126.05,484.30 L126.70,499.43 L127.52,495.94 L127.97,505.35 L128.69,496.49 L129.21,500.64 L129.92,494.00 L130.73,505.15 L131.45,496.54 L132.07,507.31 L132.88,500.87 L133.49,508.25 L134.06,505.04 L134.71,507.75 L135.50,509.78 L136.33,513.44 L136.85,510.30 L137.41,513.61 L138.03,509.95 L138.67,513.33 L139.46,509.24 L140.09,513.99 L140.5,514.2 L59.5,514.2 Z" fill="#f8f8f8" stroke="none"/>
<path d="M39.50,514.20 L59.50,514.20 L59.50,510.30 L60.17,511.66 L60.81,510.18 L61.50,513.69 L62.15,509.94 L62.92,513.94 L63.49,511.02 L64.26,512.29 L64.73,509.24 L65.56,512.40 L66.26,510.89 L66.72,512.75 L67.19,500.00 L67.74,508.76 L68.37,497.90 L69.16,505.68 L69.87,497.40 L70.58,506.07 L71.14,493.22 L71.99,503.66 L72.72,498.95 L73.27,507.13 L73.74,495.16 L74.35,503.62 L74.96,493.55 L75.75,508.20 L76.28,491.06 L76.92,501.14 L77.53,499.10 L78.23,502.59 L78.79,498.96 L79.37,501.26 L80.12,498.67 L80.67,507.47 L81.15,492.15 L81.67,504.17 L82.30,497.97 L83.04,507.26 L83.75,498.68 L84.37,506.67 L84.92,490.48 L85.69,506.01 L86.50,497.78 L87.11,502.05 L87.81,498.84 L88.66,506.66 L89.21,492.38 L89.79,506.07 L90.27,498.30 L90.96,506.13 L91.65,495.48 L92.28,500.76 L92.92,493.45 L93.72,506.58 L94.23,490.12 L95.01,506.08 L95.53,491.81 L96.36,506.48 L97.19,490.38 L97.88,504.79 L98.37,498.81 L99.21,506.16 L99.94,496.63 L100.72,500.90 L101.29,493.42 L102.02,505.81 L102.57,488.66 L103.36,500.74 L103.92,484.22 L104.45,506.30 L105.01,490.07 L105.48,504.81 L106.08,488.51 L106.58,503.08 L107.39,483.44 L108.10,499.11 L108.78,492.55 L109.25,505.77 L110.06,485.15 L110.90,505.74 L111.60,488.03 L112.34,502.79 L113.19,493.41 L113.86,498.65 L114.67,484.67 L115.40,494.68 L116.22,484.57 L116.94,493.39 L117.74,483.53 L118.51,493.84 L119.19,480.20 L119.79,492.54 L120.48,481.96 L121.19,486.25 L121.99,468.74 L122.60,495.38 L123.28,487.81 L124.07,504.85 L124.82,493.39 L125.51,500.79 L126.05,484.30 L126.70,499.43 L127.52,495.94 L127.97,505.35 L128.69,496.49 L129.21,500.64 L129.92,494.00 L130.73,505.15 L131.45,496.54 L132.07,507.31 L132.88,500.87 L133.49,508.25 L134.06,505.04 L134.71,507.75 L135.50,509.78 L136.33,513.44 L136.85,510.30 L137.41,513.61 L138.03,509.95 L138.67,513.33 L139.46,509.24 L140.09,513.99 L140.50,514.20 L231.30,514.20" fill="none" stroke="#6e6e6e" stroke-width="0.9" stroke-linejoin="round"/>
<path d="M92.00,541.20 L92.31,541.16 L92.72,541.12 L93.21,541.08 L93.75,541.03 L94.32,540.95 L94.91,540.84 L95.47,540.69 L96.00,540.50 L96.49,540.28 L96.96,540.06 L97.42,539.82 L97.89,539.54 L98.37,539.20 L98.87,538.79 L99.41,538.30 L100.00,537.70 L100.65,537.00 L101.37,536.21 L102.13,535.34 L102.91,534.39 L103.69,533.38 L104.45,532.31 L105.16,531.18 L105.80,530.00 L106.37,528.77 L106.89,527.49 L107.37,526.14 L107.82,524.74 L108.26,523.27 L108.69,521.75 L109.13,520.15 L109.60,518.50 L110.09,516.71 L110.59,514.77 L111.10,512.72 L111.61,510.62 L112.11,508.55 L112.60,506.55 L113.06,504.68 L113.50,503.00 L113.91,501.49 L114.30,500.07 L114.67,498.75 L115.02,497.53 L115.36,496.39 L115.68,495.34 L116.00,494.38 L116.30,493.50 L116.59,492.70 L116.86,492.00 L117.11,491.37 L117.36,490.84 L117.59,490.39 L117.83,490.04 L118.06,489.77 L118.30,489.60 L118.54,489.49 L118.76,489.44 L118.98,489.47 L119.19,489.59 L119.42,489.83 L119.66,490.21 L119.92,490.76 L120.20,491.50 L120.51,492.45 L120.85,493.61 L121.21,494.93 L121.59,496.40 L121.97,497.97 L122.35,499.62 L122.73,501.31 L123.10,503.00 L123.46,504.77 L123.83,506.69 L124.19,508.70 L124.56,510.75 L124.92,512.80 L125.28,514.81 L125.64,516.73 L126.00,518.50 L126.35,520.15 L126.68,521.75 L127.01,523.27 L127.34,524.74 L127.67,526.14 L128.03,527.49 L128.40,528.77 L128.80,530.00 L129.23,531.17 L129.68,532.29 L130.14,533.35 L130.63,534.35 L131.12,535.29 L131.64,536.16 L132.16,536.96 L132.70,537.70 L133.29,538.36 L133.95,538.95 L134.65,539.47 L135.34,539.93 L136.01,540.33 L136.62,540.67 L137.12,540.96 L137.50,541.20 L137.50,541.2 L92.00,541.2 Z" fill="#ece3f7" stroke="none"/>
<path d="M39.5,541.2 L92.00,541.2 M137.50,541.2 L231.3,541.2" fill="none" stroke="#8a62c0" stroke-width="0.9"/>
<path d="M92.00,541.20 L92.31,541.16 L92.72,541.12 L93.21,541.08 L93.75,541.03 L94.32,540.95 L94.91,540.84 L95.47,540.69 L96.00,540.50 L96.49,540.28 L96.96,540.06 L97.42,539.82 L97.89,539.54 L98.37,539.20 L98.87,538.79 L99.41,538.30 L100.00,537.70 L100.65,537.00 L101.37,536.21 L102.13,535.34 L102.91,534.39 L103.69,533.38 L104.45,532.31 L105.16,531.18 L105.80,530.00 L106.37,528.77 L106.89,527.49 L107.37,526.14 L107.82,524.74 L108.26,523.27 L108.69,521.75 L109.13,520.15 L109.60,518.50 L110.09,516.71 L110.59,514.77 L111.10,512.72 L111.61,510.62 L112.11,508.55 L112.60,506.55 L113.06,504.68 L113.50,503.00 L113.91,501.49 L114.30,500.07 L114.67,498.75 L115.02,497.53 L115.36,496.39 L115.68,495.34 L116.00,494.38 L116.30,493.50 L116.59,492.70 L116.86,492.00 L117.11,491.37 L117.36,490.84 L117.59,490.39 L117.83,490.04 L118.06,489.77 L118.30,489.60 L118.54,489.49 L118.76,489.44 L118.98,489.47 L119.19,489.59 L119.42,489.83 L119.66,490.21 L119.92,490.76 L120.20,491.50 L120.51,492.45 L120.85,493.61 L121.21,494.93 L121.59,496.40 L121.97,497.97 L122.35,499.62 L122.73,501.31 L123.10,503.00 L123.46,504.77 L123.83,506.69 L124.19,508.70 L124.56,510.75 L124.92,512.80 L125.28,514.81 L125.64,516.73 L126.00,518.50 L126.35,520.15 L126.68,521.75 L127.01,523.27 L127.34,524.74 L127.67,526.14 L128.03,527.49 L128.40,528.77 L128.80,530.00 L129.23,531.17 L129.68,532.29 L130.14,533.35 L130.63,534.35 L131.12,535.29 L131.64,536.16 L132.16,536.96 L132.70,537.70 L133.29,538.36 L133.95,538.95 L134.65,539.47 L135.34,539.93 L136.01,540.33 L136.62,540.67 L137.12,540.96 L137.50,541.20" fill="none" stroke="#6a2bb0" stroke-width="1.1" stroke-linejoin="round"/>
<path d="M55.80,568.50 L56.56,568.36 L57.60,568.18 L58.84,567.98 L60.21,567.74 L61.62,567.47 L63.01,567.16 L64.29,566.80 L65.40,566.40 L66.36,565.94 L67.27,565.43 L68.11,564.87 L68.91,564.28 L69.67,563.65 L70.38,563.01 L71.05,562.35 L71.70,561.70 L72.30,561.07 L72.84,560.46 L73.33,559.85 L73.79,559.22 L74.22,558.54 L74.64,557.79 L75.07,556.95 L75.50,556.00 L75.93,554.96 L76.32,553.85 L76.70,552.68 L77.08,551.43 L77.47,550.09 L77.87,548.64 L78.31,547.08 L78.80,545.40 L79.34,543.50 L79.94,541.34 L80.57,539.03 L81.22,536.63 L81.87,534.25 L82.51,531.95 L83.13,529.84 L83.70,528.00 L84.23,526.38 L84.75,524.88 L85.25,523.51 L85.73,522.26 L86.19,521.13 L86.64,520.13 L87.08,519.25 L87.50,518.50 L87.91,517.90 L88.29,517.47 L88.65,517.18 L89.01,517.01 L89.35,516.93 L89.70,516.91 L90.04,516.95 L90.40,517.00 L90.76,517.07 L91.12,517.18 L91.49,517.34 L91.85,517.57 L92.21,517.87 L92.58,518.27 L92.94,518.78 L93.30,519.40 L93.65,520.13 L93.98,520.95 L94.30,521.87 L94.63,522.88 L94.97,524.00 L95.34,525.22 L95.75,526.55 L96.20,528.00 L96.71,529.62 L97.27,531.44 L97.86,533.40 L98.48,535.44 L99.12,537.53 L99.76,539.60 L100.39,541.61 L101.00,543.50 L101.59,545.32 L102.18,547.15 L102.76,548.97 L103.34,550.74 L103.93,552.46 L104.54,554.09 L105.16,555.61 L105.80,557.00 L106.45,558.26 L107.09,559.42 L107.73,560.48 L108.39,561.45 L109.09,562.34 L109.83,563.15 L110.63,563.91 L111.50,564.60 L112.46,565.22 L113.51,565.75 L114.62,566.19 L115.78,566.58 L116.95,566.90 L118.13,567.19 L119.28,567.45 L120.40,567.70 L121.54,567.92 L122.75,568.08 L123.99,568.20 L125.21,568.29 L126.35,568.36 L127.38,568.41 L128.25,568.45 L128.90,568.50 L128.90,568.5 L55.80,568.5 Z" fill="#ece3f7" stroke="none"/>
<path d="M39.5,568.5 L55.80,568.5 M128.90,568.5 L231.3,568.5" fill="none" stroke="#8a62c0" stroke-width="0.9"/>
<path d="M55.80,568.50 L56.56,568.36 L57.60,568.18 L58.84,567.98 L60.21,567.74 L61.62,567.47 L63.01,567.16 L64.29,566.80 L65.40,566.40 L66.36,565.94 L67.27,565.43 L68.11,564.87 L68.91,564.28 L69.67,563.65 L70.38,563.01 L71.05,562.35 L71.70,561.70 L72.30,561.07 L72.84,560.46 L73.33,559.85 L73.79,559.22 L74.22,558.54 L74.64,557.79 L75.07,556.95 L75.50,556.00 L75.93,554.96 L76.32,553.85 L76.70,552.68 L77.08,551.43 L77.47,550.09 L77.87,548.64 L78.31,547.08 L78.80,545.40 L79.34,543.50 L79.94,541.34 L80.57,539.03 L81.22,536.63 L81.87,534.25 L82.51,531.95 L83.13,529.84 L83.70,528.00 L84.23,526.38 L84.75,524.88 L85.25,523.51 L85.73,522.26 L86.19,521.13 L86.64,520.13 L87.08,519.25 L87.50,518.50 L87.91,517.90 L88.29,517.47 L88.65,517.18 L89.01,517.01 L89.35,516.93 L89.70,516.91 L90.04,516.95 L90.40,517.00 L90.76,517.07 L91.12,517.18 L91.49,517.34 L91.85,517.57 L92.21,517.87 L92.58,518.27 L92.94,518.78 L93.30,519.40 L93.65,520.13 L93.98,520.95 L94.30,521.87 L94.63,522.88 L94.97,524.00 L95.34,525.22 L95.75,526.55 L96.20,528.00 L96.71,529.62 L97.27,531.44 L97.86,533.40 L98.48,535.44 L99.12,537.53 L99.76,539.60 L100.39,541.61 L101.00,543.50 L101.59,545.32 L102.18,547.15 L102.76,548.97 L103.34,550.74 L103.93,552.46 L104.54,554.09 L105.16,555.61 L105.80,557.00 L106.45,558.26 L107.09,559.42 L107.73,560.48 L108.39,561.45 L109.09,562.34 L109.83,563.15 L110.63,563.91 L111.50,564.60 L112.46,565.22 L113.51,565.75 L114.62,566.19 L115.78,566.58 L116.95,566.90 L118.13,567.19 L119.28,567.45 L120.40,567.70 L121.54,567.92 L122.75,568.08 L123.99,568.20 L125.21,568.29 L126.35,568.36 L127.38,568.41 L128.25,568.45 L128.90,568.50" fill="none" stroke="#6a2bb0" stroke-width="1.1" stroke-linejoin="round"/>
<path d="M61.20,594.80 L62.01,594.66 L63.08,594.47 L64.36,594.25 L65.79,594.01 L67.29,593.75 L68.82,593.34 L70.31,592.95 L71.70,593.12 L73.03,592.45 L74.39,592.63 L75.76,592.31 L77.12,591.88 L78.47,592.04 L79.80,591.45 L81.07,591.53 L82.30,590.96 L83.49,590.66 L84.65,590.57 L85.79,590.52 L86.89,589.57 L87.95,589.24 L88.96,589.14 L89.91,588.98 L90.80,588.26 L91.61,587.72 L92.35,587.82 L93.03,586.72 L93.66,587.00 L94.26,586.13 L94.84,585.54 L95.42,584.96 L96.00,584.45 L96.59,584.09 L97.16,582.74 L97.73,582.16 L98.27,581.23 L98.81,579.97 L99.32,578.99 L99.82,577.41 L100.30,576.15 L100.75,574.88 L101.18,573.74 L101.58,571.92 L101.97,570.15 L102.36,568.67 L102.73,566.89 L103.11,565.15 L103.50,564.04 L103.89,562.53 L104.28,560.77 L104.67,559.67 L105.05,558.31 L105.43,557.29 L105.82,555.92 L106.21,554.33 L106.60,553.68 L107.00,551.79 L107.42,550.81 L107.84,549.87 L108.26,548.22 L108.68,547.39 L109.07,546.03 L109.45,545.66 L109.80,545.01 L110.12,544.30 L110.40,544.12 L110.67,543.37 L110.92,543.47 L111.16,543.27 L111.40,543.19 L111.65,543.07 L111.90,543.37 L112.16,543.46 L112.42,543.11 L112.68,543.32 L112.94,542.96 L113.21,543.68 L113.47,543.93 L113.73,544.63 L114.00,545.06 L114.27,545.35 L114.55,546.31 L114.82,547.54 L115.10,548.12 L115.38,549.64 L115.65,550.61 L115.93,551.79 L116.20,552.95 L116.46,554.70 L116.71,555.38 L116.95,556.70 L117.19,558.06 L117.44,559.75 L117.71,560.48 L117.99,562.22 L118.30,563.84 L118.64,565.77 L119.00,567.52 L119.38,569.46 L119.78,570.94 L120.19,573.02 L120.59,574.92 L121.00,577.22 L121.40,579.07 L121.79,580.17 L122.17,581.97 L122.54,583.79 L122.93,585.52 L123.32,587.35 L123.72,588.94 L124.15,590.00 L124.60,590.90 L125.07,592.10 L125.55,592.71 L126.04,593.35 L126.56,594.01 L127.09,593.90 L127.66,594.10 L128.26,594.28 L128.90,594.50 L129.63,594.71 L130.48,594.87 L131.39,594.98 L132.32,595.05 L133.21,595.10 L134.02,595.13 L134.70,595.16 L135.20,595.20 L135.20,595.2 L61.20,595.2 Z" fill="#e3eefa" stroke="none"/>
<path d="M39.5,595.2 L61.20,595.2 M135.20,595.2 L231.3,595.2" fill="none" stroke="#6a9ad0" stroke-width="0.9"/>
<path d="M61.20,594.80 L62.01,594.66 L63.08,594.47 L64.36,594.25 L65.79,594.01 L67.29,593.75 L68.82,593.34 L70.31,592.95 L71.70,593.12 L73.03,592.45 L74.39,592.63 L75.76,592.31 L77.12,591.88 L78.47,592.04 L79.80,591.45 L81.07,591.53 L82.30,590.96 L83.49,590.66 L84.65,590.57 L85.79,590.52 L86.89,589.57 L87.95,589.24 L88.96,589.14 L89.91,588.98 L90.80,588.26 L91.61,587.72 L92.35,587.82 L93.03,586.72 L93.66,587.00 L94.26,586.13 L94.84,585.54 L95.42,584.96 L96.00,584.45 L96.59,584.09 L97.16,582.74 L97.73,582.16 L98.27,581.23 L98.81,579.97 L99.32,578.99 L99.82,577.41 L100.30,576.15 L100.75,574.88 L101.18,573.74 L101.58,571.92 L101.97,570.15 L102.36,568.67 L102.73,566.89 L103.11,565.15 L103.50,564.04 L103.89,562.53 L104.28,560.77 L104.67,559.67 L105.05,558.31 L105.43,557.29 L105.82,555.92 L106.21,554.33 L106.60,553.68 L107.00,551.79 L107.42,550.81 L107.84,549.87 L108.26,548.22 L108.68,547.39 L109.07,546.03 L109.45,545.66 L109.80,545.01 L110.12,544.30 L110.40,544.12 L110.67,543.37 L110.92,543.47 L111.16,543.27 L111.40,543.19 L111.65,543.07 L111.90,543.37 L112.16,543.46 L112.42,543.11 L112.68,543.32 L112.94,542.96 L113.21,543.68 L113.47,543.93 L113.73,544.63 L114.00,545.06 L114.27,545.35 L114.55,546.31 L114.82,547.54 L115.10,548.12 L115.38,549.64 L115.65,550.61 L115.93,551.79 L116.20,552.95 L116.46,554.70 L116.71,555.38 L116.95,556.70 L117.19,558.06 L117.44,559.75 L117.71,560.48 L117.99,562.22 L118.30,563.84 L118.64,565.77 L119.00,567.52 L119.38,569.46 L119.78,570.94 L120.19,573.02 L120.59,574.92 L121.00,577.22 L121.40,579.07 L121.79,580.17 L122.17,581.97 L122.54,583.79 L122.93,585.52 L123.32,587.35 L123.72,588.94 L124.15,590.00 L124.60,590.90 L125.07,592.10 L125.55,592.71 L126.04,593.35 L126.56,594.01 L127.09,593.90 L127.66,594.10 L128.26,594.28 L128.90,594.50 L129.63,594.71 L130.48,594.87 L131.39,594.98 L132.32,595.05 L133.21,595.10 L134.02,595.13 L134.70,595.16 L135.20,595.20" fill="none" stroke="#3a80c8" stroke-width="1.0" stroke-linejoin="round"/>
<path d="M39.5,622 L48.50,622 M82.30,622 L231.3,622" fill="none" stroke="#666" stroke-width="0.9"/>
<path d="M48.50,622.00 L48.82,621.61 L49.25,621.12 L49.77,620.54 L50.34,619.88 L50.94,619.15 L51.55,618.37 L52.15,617.55 L52.70,616.70 L53.22,615.84 L53.75,614.97 L54.27,614.06 L54.79,613.09 L55.32,612.05 L55.84,610.92 L56.37,609.68 L56.90,608.30 L57.44,606.76 L58.00,605.05 L58.56,603.22 L59.12,601.30 L59.67,599.33 L60.21,597.35 L60.72,595.39 L61.20,593.50 L61.65,591.57 L62.08,589.53 L62.49,587.44 L62.89,585.38 L63.26,583.40 L63.62,581.58 L63.97,579.99 L64.30,578.70 L64.61,577.75 L64.89,577.11 L65.16,576.69 L65.41,576.44 L65.65,576.26 L65.89,576.10 L66.14,575.87 L66.40,575.50 L66.67,574.97 L66.95,574.35 L67.22,573.68 L67.50,573.01 L67.78,572.38 L68.05,571.86 L68.33,571.48 L68.60,571.30 L68.86,571.24 L69.11,571.24 L69.35,571.32 L69.59,571.53 L69.84,571.91 L70.11,572.48 L70.39,573.30 L70.70,574.40 L71.04,575.88 L71.40,577.75 L71.78,579.91 L72.18,582.25 L72.59,584.66 L72.99,587.05 L73.40,589.29 L73.80,591.30 L74.20,593.09 L74.59,594.77 L74.99,596.37 L75.39,597.91 L75.80,599.42 L76.20,600.92 L76.60,602.44 L77.00,604.00 L77.41,605.64 L77.83,607.35 L78.25,609.09 L78.67,610.81 L79.08,612.48 L79.48,614.05 L79.85,615.47 L80.20,616.70 L80.53,617.75 L80.85,618.67 L81.16,619.46 L81.45,620.14 L81.71,620.73 L81.95,621.22 L82.15,621.64 L82.30,622.00" fill="none" stroke="#444" stroke-width="0.9" stroke-linejoin="round"/>
<line x1="39.50" y1="383.40" x2="39.50" y2="628.60" stroke="#111" stroke-width="1.1"/>
<line x1="36.30" y1="395.50" x2="39.50" y2="395.50" stroke="#333" stroke-width="0.7"/>
<line x1="37.70" y1="407.25" x2="39.50" y2="407.25" stroke="#333" stroke-width="0.7"/>
<line x1="37.70" y1="419.00" x2="39.50" y2="419.00" stroke="#333" stroke-width="0.7"/>
<line x1="37.70" y1="430.75" x2="39.50" y2="430.75" stroke="#333" stroke-width="0.7"/>
<line x1="36.30" y1="442.50" x2="39.50" y2="442.50" stroke="#333" stroke-width="0.7"/>
<line x1="37.70" y1="454.25" x2="39.50" y2="454.25" stroke="#333" stroke-width="0.7"/>
<line x1="37.70" y1="466.00" x2="39.50" y2="466.00" stroke="#333" stroke-width="0.7"/>
<line x1="37.70" y1="477.75" x2="39.50" y2="477.75" stroke="#333" stroke-width="0.7"/>
<line x1="36.30" y1="489.50" x2="39.50" y2="489.50" stroke="#333" stroke-width="0.7"/>
<line x1="37.70" y1="501.25" x2="39.50" y2="501.25" stroke="#333" stroke-width="0.7"/>
<line x1="37.70" y1="513.00" x2="39.50" y2="513.00" stroke="#333" stroke-width="0.7"/>
<line x1="37.70" y1="524.75" x2="39.50" y2="524.75" stroke="#333" stroke-width="0.7"/>
<line x1="36.30" y1="536.50" x2="39.50" y2="536.50" stroke="#333" stroke-width="0.7"/>
<line x1="37.70" y1="548.25" x2="39.50" y2="548.25" stroke="#333" stroke-width="0.7"/>
<line x1="37.70" y1="560.00" x2="39.50" y2="560.00" stroke="#333" stroke-width="0.7"/>
<line x1="37.70" y1="571.75" x2="39.50" y2="571.75" stroke="#333" stroke-width="0.7"/>
<line x1="36.30" y1="583.50" x2="39.50" y2="583.50" stroke="#333" stroke-width="0.7"/>
<line x1="37.70" y1="595.25" x2="39.50" y2="595.25" stroke="#333" stroke-width="0.7"/>
<line x1="37.70" y1="607.00" x2="39.50" y2="607.00" stroke="#333" stroke-width="0.7"/>
<line x1="37.70" y1="618.75" x2="39.50" y2="618.75" stroke="#333" stroke-width="0.7"/>
<line x1="39.00" y1="628.30" x2="231.80" y2="628.30" stroke="#111" stroke-width="1.2"/>
<line x1="39.50" y1="628.30" x2="39.50" y2="630.90" stroke="#333" stroke-width="0.6"/>
<line x1="53.65" y1="628.30" x2="53.65" y2="629.90" stroke="#333" stroke-width="0.6"/>
<line x1="61.92" y1="628.30" x2="61.92" y2="629.90" stroke="#333" stroke-width="0.6"/>
<line x1="67.80" y1="628.30" x2="67.80" y2="629.90" stroke="#333" stroke-width="0.6"/>
<line x1="72.35" y1="628.30" x2="72.35" y2="629.90" stroke="#333" stroke-width="0.6"/>
<line x1="76.07" y1="628.30" x2="76.07" y2="629.90" stroke="#333" stroke-width="0.6"/>
<line x1="79.22" y1="628.30" x2="79.22" y2="629.90" stroke="#333" stroke-width="0.6"/>
<line x1="81.95" y1="628.30" x2="81.95" y2="629.90" stroke="#333" stroke-width="0.6"/>
<line x1="84.35" y1="628.30" x2="84.35" y2="629.90" stroke="#333" stroke-width="0.6"/>
<line x1="86.50" y1="628.30" x2="86.50" y2="630.90" stroke="#333" stroke-width="0.6"/>
<line x1="100.65" y1="628.30" x2="100.65" y2="629.90" stroke="#333" stroke-width="0.6"/>
<line x1="108.92" y1="628.30" x2="108.92" y2="629.90" stroke="#333" stroke-width="0.6"/>
<line x1="114.80" y1="628.30" x2="114.80" y2="629.90" stroke="#333" stroke-width="0.6"/>
<line x1="119.35" y1="628.30" x2="119.35" y2="629.90" stroke="#333" stroke-width="0.6"/>
<line x1="123.07" y1="628.30" x2="123.07" y2="629.90" stroke="#333" stroke-width="0.6"/>
<line x1="126.22" y1="628.30" x2="126.22" y2="629.90" stroke="#333" stroke-width="0.6"/>
<line x1="128.95" y1="628.30" x2="128.95" y2="629.90" stroke="#333" stroke-width="0.6"/>
<line x1="131.35" y1="628.30" x2="131.35" y2="629.90" stroke="#333" stroke-width="0.6"/>
<line x1="133.50" y1="628.30" x2="133.50" y2="630.90" stroke="#333" stroke-width="0.6"/>
<line x1="147.65" y1="628.30" x2="147.65" y2="629.90" stroke="#333" stroke-width="0.6"/>
<line x1="155.92" y1="628.30" x2="155.92" y2="629.90" stroke="#333" stroke-width="0.6"/>
<line x1="161.80" y1="628.30" x2="161.80" y2="629.90" stroke="#333" stroke-width="0.6"/>
<line x1="166.35" y1="628.30" x2="166.35" y2="629.90" stroke="#333" stroke-width="0.6"/>
<line x1="170.07" y1="628.30" x2="170.07" y2="629.90" stroke="#333" stroke-width="0.6"/>
<line x1="173.22" y1="628.30" x2="173.22" y2="629.90" stroke="#333" stroke-width="0.6"/>
<line x1="175.95" y1="628.30" x2="175.95" y2="629.90" stroke="#333" stroke-width="0.6"/>
<line x1="178.35" y1="628.30" x2="178.35" y2="629.90" stroke="#333" stroke-width="0.6"/>
<line x1="180.50" y1="628.30" x2="180.50" y2="630.90" stroke="#333" stroke-width="0.6"/>
<line x1="194.65" y1="628.30" x2="194.65" y2="629.90" stroke="#333" stroke-width="0.6"/>
<line x1="202.92" y1="628.30" x2="202.92" y2="629.90" stroke="#333" stroke-width="0.6"/>
<line x1="208.80" y1="628.30" x2="208.80" y2="629.90" stroke="#333" stroke-width="0.6"/>
<line x1="213.35" y1="628.30" x2="213.35" y2="629.90" stroke="#333" stroke-width="0.6"/>
<line x1="217.07" y1="628.30" x2="217.07" y2="629.90" stroke="#333" stroke-width="0.6"/>
<line x1="220.22" y1="628.30" x2="220.22" y2="629.90" stroke="#333" stroke-width="0.6"/>
<line x1="222.95" y1="628.30" x2="222.95" y2="629.90" stroke="#333" stroke-width="0.6"/>
<line x1="225.35" y1="628.30" x2="225.35" y2="629.90" stroke="#333" stroke-width="0.6"/>
<line x1="39.50" y1="637.60" x2="216.00" y2="637.60" stroke="#111" stroke-width="1.3"/>
<path d="M214,634.8 L221.5,637.6 L214,640.4 Z" fill="#111"/>
<text x="40" y="654.0" font-size="10.5" textLength="79" lengthAdjust="spacingAndGlyphs" fill="#111" stroke="#111" stroke-width="0.4">Intracellular IKAROS</text>
<text x="225.2" y="432.0" font-size="9.6" text-anchor="end" textLength="76.0" lengthAdjust="spacingAndGlyphs" fill="#111" stroke="#111" stroke-width="0.4">CD34<tspan font-size="6" dy="-3.5">+</tspan><tspan dy="3.5"> (CP-CML #1)</tspan></text>
<text x="225.2" y="458.9" font-size="9.6" text-anchor="end" textLength="76.0" lengthAdjust="spacingAndGlyphs" fill="#111" stroke="#111" stroke-width="0.4">CD34<tspan font-size="6" dy="-3.5">+</tspan><tspan dy="3.5"> (CP-CML #2)</tspan></text>
<text x="225.2" y="485.59999999999997" font-size="9.6" text-anchor="end" textLength="76.0" lengthAdjust="spacingAndGlyphs" fill="#111" stroke="#111" stroke-width="0.4">CD34<tspan font-size="6" dy="-3.5">+</tspan><tspan dy="3.5"> (CP-CML #3)</tspan></text>
<text x="225.2" y="512.4000000000001" font-size="9.6" text-anchor="end" textLength="52.3" lengthAdjust="spacingAndGlyphs" fill="#111" stroke="#111" stroke-width="0.4">CD34<tspan font-size="6" dy="-3.5">+</tspan><tspan dy="3.5"> (MPB)</tspan></text>
<text x="225.2" y="538.8000000000001" font-size="9.6" text-anchor="end" textLength="69.3" lengthAdjust="spacingAndGlyphs" fill="#111" stroke="#111" stroke-width="0.4">CD14<tspan font-size="6" dy="-3.5">+</tspan><tspan dy="3.5"> monocytes</tspan></text>
<text x="225.2" y="566.2" font-size="9.6" text-anchor="end" textLength="72.8" lengthAdjust="spacingAndGlyphs" fill="#111" stroke="#111" stroke-width="0.4">CD15<tspan font-size="6" dy="-3.5">+</tspan><tspan dy="3.5"> neutrophils</tspan></text>
<text x="225.2" y="592.5" font-size="9.6" text-anchor="end" textLength="47.3" lengthAdjust="spacingAndGlyphs" fill="#111" stroke="#111" stroke-width="0.4">CD4<tspan font-size="6" dy="-3.5">+</tspan><tspan dy="3.5"> T-cells</tspan></text>
<text x="225.2" y="618.8000000000001" font-size="9.6" text-anchor="end" textLength="40.8" lengthAdjust="spacingAndGlyphs" fill="#111" stroke="#111" stroke-width="0.4">Unstained</text>
<text x="274.9" y="375.0" font-size="12.2" font-weight="bold" fill="#000" stroke="#000" stroke-width="0.6">E</text>
<text x="366.6" y="382.9" font-size="9" text-anchor="middle" font-weight="bold" textLength="19.5" lengthAdjust="spacingAndGlyphs" fill="#111" stroke="#111" stroke-width="0.4">DAPI</text>
<text x="411.3" y="382.9" font-size="9" text-anchor="middle" font-weight="bold" textLength="30" lengthAdjust="spacingAndGlyphs" fill="#111" stroke="#111" stroke-width="0.4">IKAROS</text>
<text x="459.0" y="374.6" font-size="9" text-anchor="middle" font-weight="bold" textLength="24.5" lengthAdjust="spacingAndGlyphs" fill="#1b1bd0" stroke="#1b1bd0" stroke-width="0.4">DAPI+</text>
<text x="457.9" y="383.4" font-size="9" text-anchor="middle" font-weight="bold" textLength="30.5" lengthAdjust="spacingAndGlyphs" fill="#e01818" stroke="#e01818" stroke-width="0.4">IKAROS</text>
<text x="329.3" y="430.8" font-size="9.5" text-anchor="end" font-weight="bold" textLength="29.7" lengthAdjust="spacingAndGlyphs" fill="#111" stroke="#111" stroke-width="0.4">Control</text>
<text x="328.6" y="516.0" font-size="9.5" text-anchor="end" font-weight="bold" textLength="12.7" lengthAdjust="spacingAndGlyphs" fill="#111" stroke="#111" stroke-width="0.4">IK1</text>
<text x="328.6" y="605.7" font-size="9.5" text-anchor="end" font-weight="bold" textLength="13.4" lengthAdjust="spacingAndGlyphs" fill="#111" stroke="#111" stroke-width="0.4">IK6</text>
<path d="M340.6,383.6 L337.6,383.6 Q336.4,383.6 336.4,384.8 L336.4,468.90000000000003 Q336.4,470.1 337.6,470.1 L340.6,470.1" fill="none" stroke="#333" stroke-width="0.9"/>
<line x1="332.60" y1="427.30" x2="336.40" y2="427.30" stroke="#333" stroke-width="0.9"/>
<path d="M340.6,473.2 L337.6,473.2 Q336.4,473.2 336.4,474.4 L336.4,551.0 Q336.4,552.2 337.6,552.2 L340.6,552.2" fill="none" stroke="#333" stroke-width="0.9"/>
<line x1="332.60" y1="512.70" x2="336.40" y2="512.70" stroke="#333" stroke-width="0.9"/>
<path d="M340.6,556.0 L337.6,556.0 Q336.4,556.0 336.4,557.2 L336.4,647.3 Q336.4,648.5 337.6,648.5 L340.6,648.5" fill="none" stroke="#333" stroke-width="0.9"/>
<line x1="332.60" y1="602.40" x2="336.40" y2="602.40" stroke="#333" stroke-width="0.9"/>
<defs>
<filter id="bl" color-interpolation-filters="sRGB" x="-20%" y="-20%" width="140%" height="140%"><feGaussianBlur stdDeviation="0.7"/></filter>
<filter id="bl2" color-interpolation-filters="sRGB" x="-20%" y="-20%" width="140%" height="140%"><feGaussianBlur stdDeviation="1.2"/></filter>
<filter id="spk" filterUnits="userSpaceOnUse" x="270" y="360" width="250" height="293"><feTurbulence type="fractalNoise" baseFrequency="0.42" numOctaves="2" seed="3" result="n"/><feColorMatrix in="n" type="matrix" values="1 0 0 0 0  1 0 0 0 0  1 0 0 0 0  0 0 0 0 1" result="g"/><feComposite in="SourceGraphic" in2="g" operator="arithmetic" k1="1.6" k2="0.2" k3="0" k4="0" result="c"/><feGaussianBlur in="c" stdDeviation="0.5"/></filter>
<filter id="mot" filterUnits="userSpaceOnUse" x="270" y="360" width="250" height="293"><feTurbulence type="fractalNoise" baseFrequency="0.22" numOctaves="2" seed="5" result="n"/><feColorMatrix in="n" type="matrix" values="1 0 0 0 0  1 0 0 0 0  1 0 0 0 0  0 0 0 0 1" result="g"/><feComposite in="SourceGraphic" in2="g" operator="arithmetic" k1="1.5" k2="0.25" k3="0" k4="0" result="c"/><feGaussianBlur in="c" stdDeviation="0.6"/></filter>
<filter id="spkd" filterUnits="userSpaceOnUse" x="270" y="360" width="250" height="293"><feTurbulence type="fractalNoise" baseFrequency="0.5" numOctaves="2" seed="8" result="n"/><feColorMatrix in="n" type="matrix" values="1 0 0 0 0  1 0 0 0 0  1 0 0 0 0  0 0 0 0 1" result="g"/><feComposite in="SourceGraphic" in2="g" operator="arithmetic" k1="2.4" k2="-0.3" k3="0" k4="0" result="c"/><feGaussianBlur in="c" stdDeviation="0.5"/></filter>
<radialGradient id="nuc" cx="50%" cy="45%" r="55%"><stop offset="0" stop-color="#b8b8b8"/><stop offset="0.75" stop-color="#9c9c9c"/><stop offset="1" stop-color="#777"/></radialGradient>
<radialGradient id="nucb" cx="45%" cy="45%" r="55%"><stop offset="0" stop-color="#dedede"/><stop offset="0.8" stop-color="#c4c4c4"/><stop offset="1" stop-color="#999"/></radialGradient>
<radialGradient id="ph" cx="50%" cy="50%" r="65%"><stop offset="0" stop-color="#dcdcdc"/><stop offset="0.62" stop-color="#cccccc"/><stop offset="1" stop-color="#8a8a8a"/></radialGradient>
<linearGradient id="mag" x1="0" y1="0" x2="0" y2="1"><stop offset="0" stop-color="#8a48e8"/><stop offset="0.25" stop-color="#d848e4"/><stop offset="0.6" stop-color="#f04ac4"/><stop offset="1" stop-color="#e044d0"/></linearGradient>
<linearGradient id="mag2" x1="0" y1="0" x2="1" y2="0"><stop offset="0" stop-color="#e848d8"/><stop offset="0.6" stop-color="#d048e0"/><stop offset="1" stop-color="#7a44d8"/></linearGradient>
<radialGradient id="magr" cx="50%" cy="55%" r="55%"><stop offset="0" stop-color="#f44cc8"/><stop offset="0.6" stop-color="#e248dc"/><stop offset="0.9" stop-color="#b044e0"/><stop offset="1" stop-color="#8040d8"/></radialGradient>
<radialGradient id="magr2" cx="40%" cy="50%" r="60%"><stop offset="0" stop-color="#ee4ccc"/><stop offset="0.6" stop-color="#d048dc"/><stop offset="0.9" stop-color="#8a44dc"/><stop offset="1" stop-color="#6040d0"/></radialGradient>
<radialGradient id="magp" cx="45%" cy="45%" r="58%"><stop offset="0" stop-color="#f84a9c"/><stop offset="0.55" stop-color="#e846c8"/><stop offset="0.88" stop-color="#a848e0"/><stop offset="1" stop-color="#7044d0"/></radialGradient>
<radialGradient id="mag3" cx="45%" cy="45%" r="55%"><stop offset="0" stop-color="#f64ab0"/><stop offset="0.7" stop-color="#e048d0"/><stop offset="1" stop-color="#9048e0"/></radialGradient>
<radialGradient id="blu" cx="50%" cy="45%" r="55%"><stop offset="0" stop-color="#3a3ae8"/><stop offset="1" stop-color="#2424c0"/></radialGradient>
<radialGradient id="red" cx="50%" cy="50%" r="55%"><stop offset="0" stop-color="#e04848"/><stop offset="1" stop-color="#c02828"/></radialGradient>

<clipPath id="cc0"><ellipse cx="458.2" cy="405.1" rx="19.6" ry="19.6"/></clipPath>
<clipPath id="cc1"><ellipse cx="457.5" cy="447.0" rx="20.5" ry="21.0"/></clipPath>
<clipPath id="cc2"><ellipse cx="459.3" cy="492.7" rx="19.8" ry="17.6"/></clipPath>
<clipPath id="cc3"><ellipse cx="456.8" cy="533.5" rx="19.8" ry="19.2"/></clipPath>
<clipPath id="cc4"><ellipse cx="457.4" cy="579.0" rx="20.8" ry="19.6"/></clipPath>
<clipPath id="cc5"><ellipse cx="458.4" cy="627.2" rx="19.4" ry="19.0"/></clipPath>
<clipPath id="r0c0"><rect x="343.0" y="384.5" width="44.89999999999998" height="40.5"/></clipPath>
<clipPath id="r0c1"><rect x="389.4" y="384.5" width="44.900000000000034" height="40.5"/></clipPath>
<clipPath id="r1c0"><rect x="343.0" y="426.4" width="44.89999999999998" height="44.400000000000034"/></clipPath>
<clipPath id="r1c1"><rect x="389.4" y="426.4" width="44.900000000000034" height="44.400000000000034"/></clipPath>
<clipPath id="r2c0"><rect x="343.0" y="472.0" width="44.89999999999998" height="39.60000000000002"/></clipPath>
<clipPath id="r2c1"><rect x="389.4" y="472.0" width="44.900000000000034" height="39.60000000000002"/></clipPath>
<clipPath id="r3c0"><rect x="343.0" y="512.8" width="44.89999999999998" height="42.30000000000007"/></clipPath>
<clipPath id="r3c1"><rect x="389.4" y="512.8" width="44.900000000000034" height="42.30000000000007"/></clipPath>
<clipPath id="r4c0"><rect x="343.0" y="556.3" width="44.89999999999998" height="45.0"/></clipPath>
<clipPath id="r4c1"><rect x="389.4" y="556.3" width="44.900000000000034" height="45.0"/></clipPath>
<clipPath id="r5c0"><rect x="343.0" y="602.5" width="44.89999999999998" height="47.89999999999998"/></clipPath>
<clipPath id="r5c1"><rect x="389.4" y="602.5" width="44.900000000000034" height="47.89999999999998"/></clipPath>
</defs>
<rect x="343.00" y="384.50" width="44.90" height="40.50" fill="#050505"/>
<rect x="389.40" y="384.50" width="44.90" height="40.50" fill="#050505"/>
<rect x="435.90" y="384.50" width="44.40" height="40.50" fill="url(#ph)"/>
<rect x="343.00" y="426.40" width="44.90" height="44.40" fill="#050505"/>
<rect x="389.40" y="426.40" width="44.90" height="44.40" fill="#050505"/>
<rect x="435.90" y="426.40" width="44.40" height="44.40" fill="url(#ph)"/>
<rect x="343.00" y="472.00" width="44.90" height="39.60" fill="#050505"/>
<rect x="389.40" y="472.00" width="44.90" height="39.60" fill="#050505"/>
<rect x="435.90" y="472.00" width="44.40" height="39.60" fill="url(#ph)"/>
<rect x="343.00" y="512.80" width="44.90" height="42.30" fill="#050505"/>
<rect x="389.40" y="512.80" width="44.90" height="42.30" fill="#050505"/>
<rect x="435.90" y="512.80" width="44.40" height="42.30" fill="url(#ph)"/>
<rect x="343.00" y="556.30" width="44.90" height="45.00" fill="#050505"/>
<rect x="389.40" y="556.30" width="44.90" height="45.00" fill="#050505"/>
<rect x="435.90" y="556.30" width="44.40" height="45.00" fill="url(#ph)"/>
<rect x="343.00" y="602.50" width="44.90" height="47.90" fill="#050505"/>
<rect x="389.40" y="602.50" width="44.90" height="47.90" fill="#050505"/>
<rect x="435.90" y="602.50" width="44.40" height="47.90" fill="url(#ph)"/>
<g clip-path="url(#r0c0)"><g filter="url(#bl)"><g filter="url(#mot)"><path d="M347,409 C346,400 354,397 362,398.5 C368,399 372,396.5 377,399 C382,402 381,412 376,417 C370,421.5 356,422 350,417 C347.5,415 347,412 347,409 Z" fill="#a6a6a6"/></g></g></g>
<g clip-path="url(#r1c0)"><g filter="url(#bl)"><g filter="url(#mot)"><path d="M364,431 C369,432 369,440 366,448 C362,456 356,461 350,460.5 C345,459.5 345,452 346.5,445 C348.5,437 356,430 364,431 Z" fill="#a2a2a2"/></g></g></g>
<g clip-path="url(#r2c0)"><g filter="url(#bl)"><g filter="url(#mot)"><path d="M354,503 C353,497 358,495 363,496 C368,496.5 372,492 378,491 C384,490 387,494 386,499 C385,504 380,507 372,508.5 C364,510 355,509 354,503 Z" fill="#606060" stroke="#a8a8a8" stroke-width="1.8"/></g></g></g>
<g clip-path="url(#r3c0)"><g filter="url(#bl)"><g filter="url(#mot)"><circle cx="360.9" cy="530.6" r="14.2" fill="#8e8e8e"/></g></g></g>
<g clip-path="url(#r4c0)"><g filter="url(#bl)"><g filter="url(#mot)"><ellipse cx="372.3" cy="577.1" rx="12.6" ry="14.5" fill="#cacaca"/></g></g></g>
<g clip-path="url(#r5c0)"><g filter="url(#bl)"><g filter="url(#mot)"><ellipse cx="368.5" cy="632.2" rx="13.2" ry="11.3" transform="rotate(-20 368.5 632.2)" fill="#cfcfcf"/></g></g></g>
<g clip-path="url(#r0c1)"><g filter="url(#bl)"><g filter="url(#spk)"><path d="M393,410 C393,402 400,400 410,400.5 C420,401 428,404 428,411 C428,418 420,423 410,423 C399,423 393,417 393,410 Z" fill="#a8a8a8"/></g></g></g>
<g clip-path="url(#r1c1)"><g filter="url(#bl)"><g filter="url(#spk)"><path d="M411,432 C402,431 392,438 391.5,448 C391,458 398,464 406,463.5 C410,463 411.5,455 412,447 C412.5,440 413,435 411,432 Z" fill="#a0a0a0"/></g></g></g>
<g clip-path="url(#r2c1)"><g filter="url(#bl)"><g filter="url(#spk)"><path d="M400,499 C401,493 410,492 416,493 C422,491 432,492 432,498 C432,505 424,509 416,509 C407,509 399.5,504 400,499 Z" fill="#a8a8a8"/></g></g></g>
<g clip-path="url(#r3c1)"><g filter="url(#bl)"><g filter="url(#spk)"><circle cx="407.4" cy="530.8" r="13.9" fill="#b4b4b4"/></g></g></g>
<g clip-path="url(#r4c1)"><g filter="url(#bl)"><g filter="url(#mot)"><g><circle cx="406.5" cy="579.3" r="16.5" fill="#8e8e8e"/></g></g></g></g>
<g clip-path="url(#r5c1)"><g filter="url(#bl)"><g filter="url(#spkd)"><g><circle cx="411.8" cy="624.8" r="16.2" fill="#cfcfcf"/><circle cx="414" cy="626.5" r="13.2" fill="#101010"/><circle cx="409" cy="616" r="2.5" fill="#0c0c0c"/><circle cx="418" cy="614.5" r="2.2" fill="#0c0c0c"/></g></g></g></g>
<g clip-path="url(#r4c1)" filter="url(#bl)"><circle cx="405.8" cy="578.6" r="9" fill="#050505"/><path d="M405,577 L414.5,561.2 L432,558 L432,598 L422.8,591.3 Z" fill="#050505"/></g>
<ellipse cx="458.2" cy="405.1" rx="20.900000000000002" ry="20.900000000000002" fill="none" stroke="#ececec" stroke-width="1.7" filter="url(#bl)"/>
<g clip-path="url(#cc0)"><g filter="url(#bl)"><rect x="430" y="380" width="60" height="60" fill="#646464" filter="url(#spkd)"/><ellipse cx="457.8" cy="413" rx="18.5" ry="12" fill="url(#magr)" filter="url(#mot)"/></g></g>
<ellipse cx="457.5" cy="447.0" rx="21.8" ry="22.3" fill="none" stroke="#ececec" stroke-width="1.7" filter="url(#bl)"/>
<g clip-path="url(#cc1)"><g filter="url(#bl)"><rect x="430" y="420" width="60" height="60" fill="#686464" filter="url(#spkd)"/><ellipse cx="448.5" cy="447.5" rx="12.5" ry="19.5" transform="rotate(12 448.5 447.5)" fill="url(#magr2)" filter="url(#mot)"/></g></g>
<ellipse cx="459.3" cy="492.7" rx="21.1" ry="18.900000000000002" fill="none" stroke="#ececec" stroke-width="1.7" filter="url(#bl)"/>
<g clip-path="url(#cc2)"><g filter="url(#bl)"><rect x="430" y="470" width="60" height="45" fill="#68645f" filter="url(#spkd)"/><ellipse cx="459.5" cy="501" rx="18.5" ry="10.5" fill="url(#magr)" filter="url(#mot)"/></g></g>
<ellipse cx="456.8" cy="533.5" rx="21.1" ry="20.5" fill="none" stroke="#ececec" stroke-width="1.7" filter="url(#bl)"/>
<g clip-path="url(#cc3)"><g filter="url(#bl)"><rect x="430" y="510" width="60" height="50" fill="#6a6a6a" filter="url(#spkd)"/><ellipse cx="453.5" cy="529.5" rx="17" ry="15.5" fill="url(#magp)" filter="url(#mot)"/></g></g>
<ellipse cx="457.4" cy="579.0" rx="22.1" ry="20.900000000000002" fill="none" stroke="#ececec" stroke-width="1.7" filter="url(#bl)"/>
<g clip-path="url(#cc4)"><g filter="url(#bl)"><rect x="430" y="555" width="60" height="50" fill="#c24040" filter="url(#mot)"/><circle cx="447.8" cy="579.2" r="5.5" fill="#1a0a0a"/><circle cx="465.1" cy="575.8" r="13.2" fill="url(#blu)"/></g></g>
<ellipse cx="458.4" cy="627.2" rx="20.7" ry="20.3" fill="none" stroke="#ececec" stroke-width="1.7" filter="url(#bl)"/>
<g clip-path="url(#cc5)"><g filter="url(#bl)"><rect x="430" y="600" width="60" height="55" fill="#c24040" filter="url(#mot)"/><circle cx="458" cy="619.5" r="6" fill="#1a0a0a"/><circle cx="460.4" cy="634.5" r="13.2" fill="url(#blu)"/></g></g>
</svg></body></html>
